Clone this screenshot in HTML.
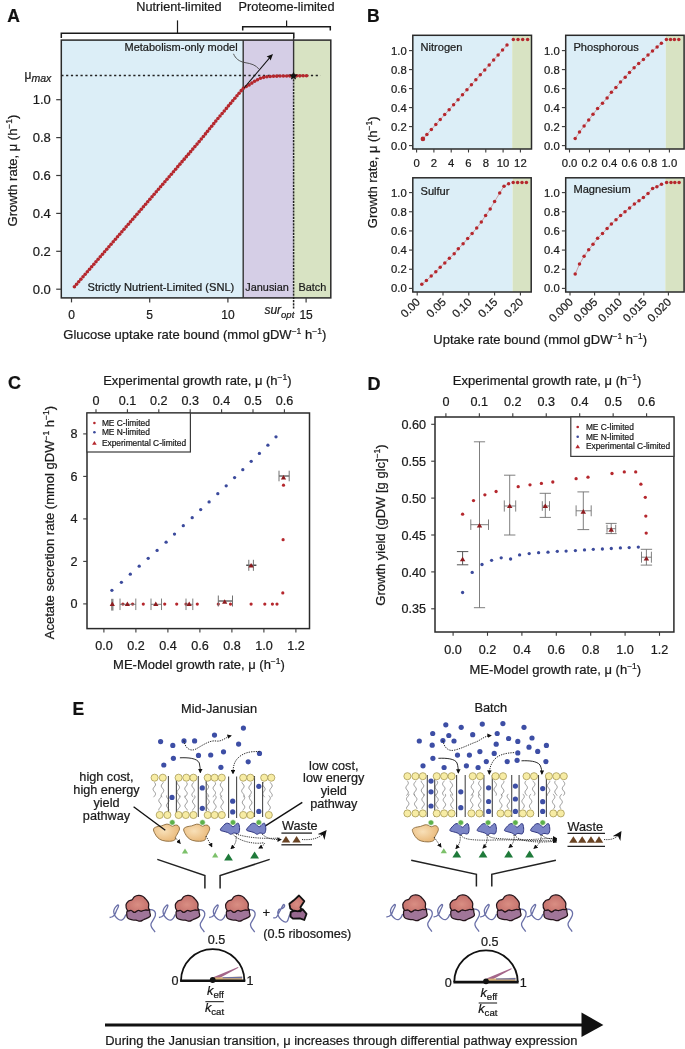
<!DOCTYPE html>
<html><head><meta charset="utf-8"><style>
html,body{margin:0;padding:0;background:#fff;overflow:hidden;width:685px;height:1049px;}
svg{display:block;font-family:"Liberation Sans", sans-serif;will-change:transform;}
text{stroke:#1a1a1a;stroke-width:0.22px;}
</style></head><body>
<svg width="685" height="1049" viewBox="0 0 685 1049">
<rect width="685" height="1049" fill="#fff"/>
<text x="7.2" y="21.8" font-size="17.5" font-weight="bold" fill="#111">A</text>
<rect x="61.30" y="40.10" width="181.90" height="257.80" fill="#dceef7" stroke="none" stroke-width="1" />
<rect x="243.20" y="40.10" width="50.40" height="257.80" fill="#d5cee6" stroke="none" stroke-width="1" />
<rect x="293.60" y="40.10" width="37.20" height="257.80" fill="#d8e3c3" stroke="none" stroke-width="1" />
<rect x="61.30" y="40.10" width="269.50" height="257.80" fill="none" stroke="#2a2a2a" stroke-width="1.5" />
<line x1="243.20" y1="40.10" x2="243.20" y2="297.90" stroke="#333" stroke-width="1.4" />
<line x1="293.60" y1="37.80" x2="293.60" y2="76.00" stroke="#333" stroke-width="1.4" />
<line x1="293.60" y1="76.00" x2="293.60" y2="308.50" stroke="#222" stroke-width="1.5" stroke-dasharray="2.2,1.0"/>
<path d="M61.3,38 V33.2 H293.8 V38" fill="none" stroke="#1a1a1a" stroke-width="1.5"/>
<line x1="177.50" y1="20.40" x2="177.50" y2="33.20" stroke="#1a1a1a" stroke-width="1.2" />
<path d="M242.7,30.5 V26.8 H330.3 V30.5" fill="none" stroke="#1a1a1a" stroke-width="1.5"/>
<line x1="286.60" y1="20.40" x2="286.60" y2="26.80" stroke="#1a1a1a" stroke-width="1.2" />
<text x="179.00" y="11.00" font-size="12.7" text-anchor="middle" fill="#1a1a1a" >Nutrient-limited</text>
<text x="286.50" y="11.00" font-size="12.7" text-anchor="middle" fill="#1a1a1a" >Proteome-limited</text>
<text x="237.60" y="51.00" font-size="11" text-anchor="end" fill="#1a1a1a" >Metabolism-only model</text>
<line x1="61.30" y1="75.50" x2="320.60" y2="75.50" stroke="#222" stroke-width="1.3" stroke-dasharray="2.2,2.6"/>
<line x1="56.20" y1="289.20" x2="61.30" y2="289.20" stroke="#3a3a3a" stroke-width="1.2" />
<text x="50.80" y="293.70" font-size="13" text-anchor="end" fill="#1a1a1a" >0.0</text>
<line x1="56.20" y1="251.30" x2="61.30" y2="251.30" stroke="#3a3a3a" stroke-width="1.2" />
<text x="50.80" y="255.80" font-size="13" text-anchor="end" fill="#1a1a1a" >0.2</text>
<line x1="56.20" y1="213.40" x2="61.30" y2="213.40" stroke="#3a3a3a" stroke-width="1.2" />
<text x="50.80" y="217.90" font-size="13" text-anchor="end" fill="#1a1a1a" >0.4</text>
<line x1="56.20" y1="175.50" x2="61.30" y2="175.50" stroke="#3a3a3a" stroke-width="1.2" />
<text x="50.80" y="180.00" font-size="13" text-anchor="end" fill="#1a1a1a" >0.6</text>
<line x1="56.20" y1="137.60" x2="61.30" y2="137.60" stroke="#3a3a3a" stroke-width="1.2" />
<text x="50.80" y="142.10" font-size="13" text-anchor="end" fill="#1a1a1a" >0.8</text>
<line x1="56.20" y1="99.70" x2="61.30" y2="99.70" stroke="#3a3a3a" stroke-width="1.2" />
<text x="50.80" y="104.20" font-size="13" text-anchor="end" fill="#1a1a1a" >1.0</text>
<text x="24.5" y="79" font-size="12" fill="#1a1a1a">μ<tspan font-style="italic" font-size="10.5" dy="2.5">max</tspan></text>
<line x1="71.50" y1="297.90" x2="71.50" y2="302.40" stroke="#3a3a3a" stroke-width="1.2" />
<text x="71.50" y="319.40" font-size="12" text-anchor="middle" fill="#1a1a1a" >0</text>
<line x1="149.70" y1="297.90" x2="149.70" y2="302.40" stroke="#3a3a3a" stroke-width="1.2" />
<text x="149.70" y="319.40" font-size="12" text-anchor="middle" fill="#1a1a1a" >5</text>
<line x1="227.90" y1="297.90" x2="227.90" y2="302.40" stroke="#3a3a3a" stroke-width="1.2" />
<text x="227.90" y="319.40" font-size="12" text-anchor="middle" fill="#1a1a1a" >10</text>
<line x1="306.10" y1="297.90" x2="306.10" y2="302.40" stroke="#3a3a3a" stroke-width="1.2" />
<text x="306.10" y="319.40" font-size="12" text-anchor="middle" fill="#1a1a1a" >15</text>
<text x="264.4" y="314" font-size="12" font-style="italic" fill="#1a1a1a">sur<tspan font-size="9.5" dy="3.8">opt</tspan></text>
<text x="63.30" y="339.30" font-size="13" text-anchor="start" fill="#1a1a1a" >Glucose uptake rate bound (mmol gDW<tspan dy="-5" font-size="8.5">−1</tspan><tspan dy="5"> h</tspan><tspan dy="-5" font-size="8.5">−1</tspan><tspan dy="5">)</tspan></text>
<text transform="translate(17.3,170.5) rotate(-90)" font-size="13" text-anchor="middle" fill="#1a1a1a">Growth rate, μ (h<tspan dy="-5" font-size="8.5">−1</tspan><tspan dy="5">)</tspan></text>
<text x="87.60" y="290.50" font-size="11.1" text-anchor="start" fill="#1a1a1a" >Strictly Nutrient-Limited (SNL)</text>
<text x="245.30" y="290.50" font-size="10.9" text-anchor="start" fill="#1a1a1a" >Janusian</text>
<text x="298.40" y="290.50" font-size="10.9" text-anchor="start" fill="#1a1a1a" >Batch</text>
<polyline points="74.4,286.7 81.1,278.9 87.9,271.1 94.6,263.3 101.4,255.5 108.1,247.7 114.8,239.9 121.6,232.1 128.3,224.3 135.1,216.5 141.8,208.7 147.5,202.0 153.2,195.4 158.9,188.8 164.6,182.1 170.2,175.4 175.9,168.8 181.6,162.1 187.3,155.5 193.0,148.8 198.7,142.2 200.6,139.9 202.5,137.5 204.4,135.2 206.3,132.9 208.1,130.6 210.0,128.2 211.9,125.9 213.8,123.6 215.7,121.2 217.6,118.9 220.2,115.9 222.7,112.8 225.2,109.8 227.8,106.7 230.3,103.7 232.9,100.6 235.4,97.6 238.0,94.5 240.5,91.5 243.1,88.4 243.2,88.3 243.4,88.2 243.6,88.1 243.8,88.0 244.0,87.9 244.2,87.7 244.5,87.6 244.7,87.4 245.0,87.3 245.3,87.1 245.6,87.0 245.8,86.8 246.1,86.6 246.4,86.4 246.8,86.3 247.1,86.1 247.4,85.9 247.7,85.7 248.0,85.5 248.3,85.4 248.6,85.2 248.9,85.0 249.2,84.8 249.4,84.7 249.7,84.5 250.0,84.3 250.2,84.2 250.5,84.0 250.7,83.8 251.0,83.7 251.3,83.5 251.5,83.3 251.8,83.2 252.0,83.0 252.3,82.8 252.6,82.6 252.8,82.5 253.1,82.3 253.3,82.1 253.6,82.0 253.8,81.8 254.1,81.6 254.4,81.5 254.6,81.3 254.9,81.1 255.1,81.0 255.4,80.8 255.7,80.7 255.9,80.5 256.2,80.4 256.5,80.3 256.7,80.1 257.0,80.0 257.2,79.8 257.5,79.7 257.7,79.6 258.0,79.5 258.2,79.3 258.5,79.2 258.7,79.1 259.0,78.9 259.2,78.8 259.5,78.7 259.8,78.6 260.0,78.5 260.3,78.4 260.6,78.3 260.8,78.2 261.1,78.1 261.4,78.0 261.7,77.9 262.0,77.8 262.3,77.7 262.7,77.6 263.0,77.5 263.3,77.4 263.7,77.3 264.0,77.3 264.4,77.2 264.7,77.1 265.1,77.1 265.4,77.0 265.8,77.0 266.2,76.9 266.6,76.9 266.9,76.8 267.3,76.8 267.7,76.7 268.1,76.7 268.5,76.6 269.0,76.6 269.4,76.6 269.8,76.5 270.3,76.5 270.7,76.5 271.2,76.4 271.7,76.4 272.2,76.4 272.7,76.3 273.2,76.3 273.7,76.3 274.3,76.2 274.8,76.2 275.4,76.2 276.0,76.2 276.6,76.1 277.2,76.1 277.8,76.1 278.4,76.1 279.0,76.1 279.6,76.1 280.3,76.0 280.9,76.0 281.6,76.0 282.2,76.0 282.9,76.0 283.6,76.0 284.3,76.0 285.0,76.0 285.7,75.9 286.4,75.9 287.1,75.9 287.8,75.9 288.5,75.9 289.2,75.9 289.9,75.9 290.7,75.9 291.5,75.9 292.4,75.9 293.2,75.9 294.1,75.9 295.0,75.8 295.9,75.8 296.9,75.8 297.8,75.8 298.7,75.8 299.6,75.8 300.6,75.8 301.4,75.8 302.3,75.8 303.2,75.8 304.0,75.8 304.8,75.8 305.5,75.8 306.2,75.8 306.9,75.8 307.5,75.8 308.1,75.8 308.6,75.8 309.0,75.8" fill="none" stroke="#b5272d" stroke-width="1.0" stroke-opacity="0.55"/>
<circle cx="74.40" cy="286.70" r="1.8" fill="#b5272d"/>
<circle cx="76.56" cy="284.20" r="1.8" fill="#b5272d"/>
<circle cx="78.72" cy="281.71" r="1.8" fill="#b5272d"/>
<circle cx="80.87" cy="279.21" r="1.8" fill="#b5272d"/>
<circle cx="83.03" cy="276.71" r="1.8" fill="#b5272d"/>
<circle cx="85.19" cy="274.22" r="1.8" fill="#b5272d"/>
<circle cx="87.35" cy="271.72" r="1.8" fill="#b5272d"/>
<circle cx="89.50" cy="269.22" r="1.8" fill="#b5272d"/>
<circle cx="91.66" cy="266.72" r="1.8" fill="#b5272d"/>
<circle cx="93.82" cy="264.23" r="1.8" fill="#b5272d"/>
<circle cx="95.98" cy="261.73" r="1.8" fill="#b5272d"/>
<circle cx="98.13" cy="259.23" r="1.8" fill="#b5272d"/>
<circle cx="100.29" cy="256.74" r="1.8" fill="#b5272d"/>
<circle cx="102.45" cy="254.24" r="1.8" fill="#b5272d"/>
<circle cx="104.61" cy="251.74" r="1.8" fill="#b5272d"/>
<circle cx="106.76" cy="249.25" r="1.8" fill="#b5272d"/>
<circle cx="108.92" cy="246.75" r="1.8" fill="#b5272d"/>
<circle cx="111.08" cy="244.25" r="1.8" fill="#b5272d"/>
<circle cx="113.24" cy="241.76" r="1.8" fill="#b5272d"/>
<circle cx="115.39" cy="239.26" r="1.8" fill="#b5272d"/>
<circle cx="117.55" cy="236.76" r="1.8" fill="#b5272d"/>
<circle cx="119.71" cy="234.26" r="1.8" fill="#b5272d"/>
<circle cx="121.87" cy="231.77" r="1.8" fill="#b5272d"/>
<circle cx="124.03" cy="229.27" r="1.8" fill="#b5272d"/>
<circle cx="126.18" cy="226.77" r="1.8" fill="#b5272d"/>
<circle cx="128.34" cy="224.28" r="1.8" fill="#b5272d"/>
<circle cx="130.50" cy="221.78" r="1.8" fill="#b5272d"/>
<circle cx="132.66" cy="219.28" r="1.8" fill="#b5272d"/>
<circle cx="134.81" cy="216.79" r="1.8" fill="#b5272d"/>
<circle cx="136.97" cy="214.29" r="1.8" fill="#b5272d"/>
<circle cx="139.13" cy="211.79" r="1.8" fill="#b5272d"/>
<circle cx="141.29" cy="209.29" r="1.8" fill="#b5272d"/>
<circle cx="143.43" cy="206.79" r="1.8" fill="#b5272d"/>
<circle cx="145.58" cy="204.28" r="1.8" fill="#b5272d"/>
<circle cx="147.73" cy="201.78" r="1.8" fill="#b5272d"/>
<circle cx="149.87" cy="199.27" r="1.8" fill="#b5272d"/>
<circle cx="152.02" cy="196.76" r="1.8" fill="#b5272d"/>
<circle cx="154.16" cy="194.25" r="1.8" fill="#b5272d"/>
<circle cx="156.31" cy="191.75" r="1.8" fill="#b5272d"/>
<circle cx="158.45" cy="189.24" r="1.8" fill="#b5272d"/>
<circle cx="160.60" cy="186.73" r="1.8" fill="#b5272d"/>
<circle cx="162.74" cy="184.22" r="1.8" fill="#b5272d"/>
<circle cx="164.89" cy="181.72" r="1.8" fill="#b5272d"/>
<circle cx="167.03" cy="179.21" r="1.8" fill="#b5272d"/>
<circle cx="169.18" cy="176.70" r="1.8" fill="#b5272d"/>
<circle cx="171.33" cy="174.19" r="1.8" fill="#b5272d"/>
<circle cx="173.47" cy="171.69" r="1.8" fill="#b5272d"/>
<circle cx="175.62" cy="169.18" r="1.8" fill="#b5272d"/>
<circle cx="177.76" cy="166.67" r="1.8" fill="#b5272d"/>
<circle cx="179.91" cy="164.16" r="1.8" fill="#b5272d"/>
<circle cx="182.05" cy="161.66" r="1.8" fill="#b5272d"/>
<circle cx="184.20" cy="159.15" r="1.8" fill="#b5272d"/>
<circle cx="186.34" cy="156.64" r="1.8" fill="#b5272d"/>
<circle cx="188.49" cy="154.13" r="1.8" fill="#b5272d"/>
<circle cx="190.63" cy="151.63" r="1.8" fill="#b5272d"/>
<circle cx="192.78" cy="149.12" r="1.8" fill="#b5272d"/>
<circle cx="194.92" cy="146.61" r="1.8" fill="#b5272d"/>
<circle cx="197.07" cy="144.10" r="1.8" fill="#b5272d"/>
<circle cx="199.20" cy="141.58" r="1.8" fill="#b5272d"/>
<circle cx="201.28" cy="139.02" r="1.8" fill="#b5272d"/>
<circle cx="203.36" cy="136.46" r="1.8" fill="#b5272d"/>
<circle cx="205.44" cy="133.90" r="1.8" fill="#b5272d"/>
<circle cx="207.52" cy="131.33" r="1.8" fill="#b5272d"/>
<circle cx="209.59" cy="128.77" r="1.8" fill="#b5272d"/>
<circle cx="211.67" cy="126.21" r="1.8" fill="#b5272d"/>
<circle cx="213.75" cy="123.64" r="1.8" fill="#b5272d"/>
<circle cx="215.83" cy="121.08" r="1.8" fill="#b5272d"/>
<circle cx="217.92" cy="118.52" r="1.8" fill="#b5272d"/>
<circle cx="220.03" cy="115.99" r="1.8" fill="#b5272d"/>
<circle cx="222.15" cy="113.46" r="1.8" fill="#b5272d"/>
<circle cx="224.27" cy="110.93" r="1.8" fill="#b5272d"/>
<circle cx="226.38" cy="108.40" r="1.8" fill="#b5272d"/>
<circle cx="228.50" cy="105.86" r="1.8" fill="#b5272d"/>
<circle cx="230.62" cy="103.33" r="1.8" fill="#b5272d"/>
<circle cx="232.73" cy="100.80" r="1.8" fill="#b5272d"/>
<circle cx="234.85" cy="98.27" r="1.8" fill="#b5272d"/>
<circle cx="236.97" cy="95.74" r="1.8" fill="#b5272d"/>
<circle cx="239.08" cy="93.21" r="1.8" fill="#b5272d"/>
<circle cx="241.20" cy="90.67" r="1.8" fill="#b5272d"/>
<circle cx="243.39" cy="88.23" r="1.8" fill="#b5272d"/>
<circle cx="246.24" cy="86.56" r="1.8" fill="#b5272d"/>
<circle cx="249.08" cy="84.88" r="1.8" fill="#b5272d"/>
<circle cx="251.86" cy="83.11" r="1.8" fill="#b5272d"/>
<circle cx="254.62" cy="81.30" r="1.8" fill="#b5272d"/>
<circle cx="257.51" cy="79.70" r="1.8" fill="#b5272d"/>
<circle cx="260.49" cy="78.29" r="1.8" fill="#b5272d"/>
<circle cx="263.65" cy="77.35" r="1.8" fill="#b5272d"/>
<circle cx="266.90" cy="76.82" r="1.8" fill="#b5272d"/>
<circle cx="270.19" cy="76.50" r="1.8" fill="#b5272d"/>
<circle cx="273.48" cy="76.28" r="1.8" fill="#b5272d"/>
<circle cx="276.78" cy="76.13" r="1.8" fill="#b5272d"/>
<circle cx="280.08" cy="76.04" r="1.8" fill="#b5272d"/>
<circle cx="283.37" cy="75.98" r="1.8" fill="#b5272d"/>
<circle cx="286.67" cy="75.93" r="1.8" fill="#b5272d"/>
<circle cx="289.97" cy="75.89" r="1.8" fill="#b5272d"/>
<circle cx="293.27" cy="75.86" r="1.8" fill="#b5272d"/>
<circle cx="296.57" cy="75.84" r="1.8" fill="#b5272d"/>
<circle cx="299.87" cy="75.83" r="1.8" fill="#b5272d"/>
<circle cx="303.17" cy="75.82" r="1.8" fill="#b5272d"/>
<circle cx="306.47" cy="75.81" r="1.8" fill="#b5272d"/>
<line x1="244.00" y1="88.00" x2="270.00" y2="57.40" stroke="#111" stroke-width="1.05" />
<path d="M273.0,54.0 L266.6,56.6 L269.3,58.1 L270.6,60.6 Z" fill="#111"/>
<path d="M233.5,53.8 C235.5,58.5 239,61.5 245,62.6 C251,63.6 256,65 258.8,69.0" fill="none" stroke="#444" stroke-width="0.9"/>
<polygon points="293.50,71.70 294.76,74.26 297.59,74.67 295.54,76.66 296.03,79.48 293.50,78.15 290.97,79.48 291.46,76.66 289.41,74.67 292.24,74.26" fill="#111"/>
<text x="367" y="21.8" font-size="17.5" font-weight="bold" fill="#111">B</text>
<rect x="412.80" y="35.30" width="99.40" height="113.70" fill="#dceef7" stroke="none" stroke-width="1" />
<rect x="512.20" y="35.30" width="19.30" height="113.70" fill="#d8e3c3" stroke="none" stroke-width="1" />
<rect x="412.80" y="35.30" width="118.70" height="113.70" fill="none" stroke="#2a2a2a" stroke-width="1.5" />
<line x1="409.00" y1="145.60" x2="412.80" y2="145.60" stroke="#3a3a3a" stroke-width="1.1" />
<text x="406.80" y="149.50" font-size="11.3" text-anchor="end" fill="#1a1a1a" >0.0</text>
<line x1="409.00" y1="126.60" x2="412.80" y2="126.60" stroke="#3a3a3a" stroke-width="1.1" />
<text x="406.80" y="130.50" font-size="11.3" text-anchor="end" fill="#1a1a1a" >0.2</text>
<line x1="409.00" y1="107.60" x2="412.80" y2="107.60" stroke="#3a3a3a" stroke-width="1.1" />
<text x="406.80" y="111.50" font-size="11.3" text-anchor="end" fill="#1a1a1a" >0.4</text>
<line x1="409.00" y1="88.60" x2="412.80" y2="88.60" stroke="#3a3a3a" stroke-width="1.1" />
<text x="406.80" y="92.50" font-size="11.3" text-anchor="end" fill="#1a1a1a" >0.6</text>
<line x1="409.00" y1="69.60" x2="412.80" y2="69.60" stroke="#3a3a3a" stroke-width="1.1" />
<text x="406.80" y="73.50" font-size="11.3" text-anchor="end" fill="#1a1a1a" >0.8</text>
<line x1="409.00" y1="50.60" x2="412.80" y2="50.60" stroke="#3a3a3a" stroke-width="1.1" />
<text x="406.80" y="54.50" font-size="11.3" text-anchor="end" fill="#1a1a1a" >1.0</text>
<line x1="416.60" y1="149.00" x2="416.60" y2="152.50" stroke="#3a3a3a" stroke-width="1.1" />
<text x="416.60" y="167.00" font-size="11.3" text-anchor="middle" fill="#1a1a1a" >0</text>
<line x1="433.90" y1="149.00" x2="433.90" y2="152.50" stroke="#3a3a3a" stroke-width="1.1" />
<text x="433.90" y="167.00" font-size="11.3" text-anchor="middle" fill="#1a1a1a" >2</text>
<line x1="451.20" y1="149.00" x2="451.20" y2="152.50" stroke="#3a3a3a" stroke-width="1.1" />
<text x="451.20" y="167.00" font-size="11.3" text-anchor="middle" fill="#1a1a1a" >4</text>
<line x1="468.50" y1="149.00" x2="468.50" y2="152.50" stroke="#3a3a3a" stroke-width="1.1" />
<text x="468.50" y="167.00" font-size="11.3" text-anchor="middle" fill="#1a1a1a" >6</text>
<line x1="485.80" y1="149.00" x2="485.80" y2="152.50" stroke="#3a3a3a" stroke-width="1.1" />
<text x="485.80" y="167.00" font-size="11.3" text-anchor="middle" fill="#1a1a1a" >8</text>
<line x1="503.10" y1="149.00" x2="503.10" y2="152.50" stroke="#3a3a3a" stroke-width="1.1" />
<text x="503.10" y="167.00" font-size="11.3" text-anchor="middle" fill="#1a1a1a" >10</text>
<line x1="520.40" y1="149.00" x2="520.40" y2="152.50" stroke="#3a3a3a" stroke-width="1.1" />
<text x="520.40" y="167.00" font-size="11.3" text-anchor="middle" fill="#1a1a1a" >12</text>
<text x="420.50" y="50.80" font-size="11.1" text-anchor="start" fill="#1a1a1a" >Nitrogen</text>
<polyline points="422.9,138.9 426.9,134.5 431.3,129.5 435.8,124.6 440.2,119.6 444.7,114.6 449.1,109.7 453.6,104.7 458.0,99.7 462.5,94.7 466.9,89.8 471.4,84.8 475.8,79.8 480.3,74.9 484.8,69.9 489.2,64.9 493.6,60.0 498.1,55.0 502.5,50.0 507.0,45.0" fill="none" stroke="#b5272d" stroke-width="0.8" stroke-opacity="0.5"/>
<circle cx="422.90" cy="138.90" r="1.75" fill="#b5272d"/>
<circle cx="426.90" cy="134.50" r="1.75" fill="#b5272d"/>
<circle cx="431.35" cy="129.53" r="1.75" fill="#b5272d"/>
<circle cx="435.80" cy="124.56" r="1.75" fill="#b5272d"/>
<circle cx="440.25" cy="119.59" r="1.75" fill="#b5272d"/>
<circle cx="444.70" cy="114.62" r="1.75" fill="#b5272d"/>
<circle cx="449.15" cy="109.65" r="1.75" fill="#b5272d"/>
<circle cx="453.60" cy="104.68" r="1.75" fill="#b5272d"/>
<circle cx="458.05" cy="99.71" r="1.75" fill="#b5272d"/>
<circle cx="462.50" cy="94.74" r="1.75" fill="#b5272d"/>
<circle cx="466.95" cy="89.77" r="1.75" fill="#b5272d"/>
<circle cx="471.40" cy="84.80" r="1.75" fill="#b5272d"/>
<circle cx="475.85" cy="79.83" r="1.75" fill="#b5272d"/>
<circle cx="480.30" cy="74.86" r="1.75" fill="#b5272d"/>
<circle cx="484.75" cy="69.89" r="1.75" fill="#b5272d"/>
<circle cx="489.20" cy="64.92" r="1.75" fill="#b5272d"/>
<circle cx="493.65" cy="59.95" r="1.75" fill="#b5272d"/>
<circle cx="498.10" cy="54.98" r="1.75" fill="#b5272d"/>
<circle cx="502.55" cy="50.01" r="1.75" fill="#b5272d"/>
<circle cx="507.00" cy="45.04" r="1.75" fill="#b5272d"/>
<circle cx="513.30" cy="39.40" r="1.75" fill="#b5272d"/>
<circle cx="518.00" cy="39.40" r="1.75" fill="#b5272d"/>
<circle cx="522.70" cy="39.40" r="1.75" fill="#b5272d"/>
<circle cx="527.60" cy="39.40" r="1.75" fill="#b5272d"/>
<circle cx="422.90" cy="138.90" r="2.3" fill="#b5272d"/>
<rect x="565.70" y="35.30" width="100.10" height="113.70" fill="#dceef7" stroke="none" stroke-width="1" />
<rect x="665.80" y="35.30" width="18.30" height="113.70" fill="#d8e3c3" stroke="none" stroke-width="1" />
<rect x="565.70" y="35.30" width="118.40" height="113.70" fill="none" stroke="#2a2a2a" stroke-width="1.5" />
<line x1="561.90" y1="145.60" x2="565.70" y2="145.60" stroke="#3a3a3a" stroke-width="1.1" />
<text x="559.70" y="149.50" font-size="11.3" text-anchor="end" fill="#1a1a1a" >0.0</text>
<line x1="561.90" y1="126.60" x2="565.70" y2="126.60" stroke="#3a3a3a" stroke-width="1.1" />
<text x="559.70" y="130.50" font-size="11.3" text-anchor="end" fill="#1a1a1a" >0.2</text>
<line x1="561.90" y1="107.60" x2="565.70" y2="107.60" stroke="#3a3a3a" stroke-width="1.1" />
<text x="559.70" y="111.50" font-size="11.3" text-anchor="end" fill="#1a1a1a" >0.4</text>
<line x1="561.90" y1="88.60" x2="565.70" y2="88.60" stroke="#3a3a3a" stroke-width="1.1" />
<text x="559.70" y="92.50" font-size="11.3" text-anchor="end" fill="#1a1a1a" >0.6</text>
<line x1="561.90" y1="69.60" x2="565.70" y2="69.60" stroke="#3a3a3a" stroke-width="1.1" />
<text x="559.70" y="73.50" font-size="11.3" text-anchor="end" fill="#1a1a1a" >0.8</text>
<line x1="561.90" y1="50.60" x2="565.70" y2="50.60" stroke="#3a3a3a" stroke-width="1.1" />
<text x="559.70" y="54.50" font-size="11.3" text-anchor="end" fill="#1a1a1a" >1.0</text>
<line x1="569.50" y1="149.00" x2="569.50" y2="152.50" stroke="#3a3a3a" stroke-width="1.1" />
<text x="569.50" y="167.00" font-size="11.3" text-anchor="middle" fill="#1a1a1a" >0.0</text>
<line x1="589.48" y1="149.00" x2="589.48" y2="152.50" stroke="#3a3a3a" stroke-width="1.1" />
<text x="589.48" y="167.00" font-size="11.3" text-anchor="middle" fill="#1a1a1a" >0.2</text>
<line x1="609.46" y1="149.00" x2="609.46" y2="152.50" stroke="#3a3a3a" stroke-width="1.1" />
<text x="609.46" y="167.00" font-size="11.3" text-anchor="middle" fill="#1a1a1a" >0.4</text>
<line x1="629.44" y1="149.00" x2="629.44" y2="152.50" stroke="#3a3a3a" stroke-width="1.1" />
<text x="629.44" y="167.00" font-size="11.3" text-anchor="middle" fill="#1a1a1a" >0.6</text>
<line x1="649.42" y1="149.00" x2="649.42" y2="152.50" stroke="#3a3a3a" stroke-width="1.1" />
<text x="649.42" y="167.00" font-size="11.3" text-anchor="middle" fill="#1a1a1a" >0.8</text>
<line x1="669.40" y1="149.00" x2="669.40" y2="152.50" stroke="#3a3a3a" stroke-width="1.1" />
<text x="669.40" y="167.00" font-size="11.3" text-anchor="middle" fill="#1a1a1a" >1.0</text>
<text x="573.40" y="50.80" font-size="11.1" text-anchor="start" fill="#1a1a1a" >Phosphorous</text>
<polyline points="575.2,138.5 579.5,132.1 584.1,126.0 588.7,120.1 593.0,114.2 597.6,108.6 602.5,103.2 607.1,97.9 611.4,92.3 615.9,87.4 620.5,82.0 625.2,77.3 629.5,72.4 634.1,67.8 638.7,63.4 643.4,59.5 648.0,55.1 652.5,51.0 657.1,47.0 661.4,43.3" fill="none" stroke="#b5272d" stroke-width="0.8" stroke-opacity="0.5"/>
<circle cx="575.20" cy="138.50" r="1.75" fill="#b5272d"/>
<circle cx="579.50" cy="132.10" r="1.75" fill="#b5272d"/>
<circle cx="584.10" cy="126.00" r="1.75" fill="#b5272d"/>
<circle cx="588.70" cy="120.10" r="1.75" fill="#b5272d"/>
<circle cx="593.00" cy="114.20" r="1.75" fill="#b5272d"/>
<circle cx="597.60" cy="108.60" r="1.75" fill="#b5272d"/>
<circle cx="602.50" cy="103.20" r="1.75" fill="#b5272d"/>
<circle cx="607.10" cy="97.90" r="1.75" fill="#b5272d"/>
<circle cx="611.40" cy="92.30" r="1.75" fill="#b5272d"/>
<circle cx="615.90" cy="87.40" r="1.75" fill="#b5272d"/>
<circle cx="620.50" cy="82.00" r="1.75" fill="#b5272d"/>
<circle cx="625.20" cy="77.30" r="1.75" fill="#b5272d"/>
<circle cx="629.50" cy="72.40" r="1.75" fill="#b5272d"/>
<circle cx="634.10" cy="67.80" r="1.75" fill="#b5272d"/>
<circle cx="638.70" cy="63.40" r="1.75" fill="#b5272d"/>
<circle cx="643.40" cy="59.50" r="1.75" fill="#b5272d"/>
<circle cx="648.00" cy="55.10" r="1.75" fill="#b5272d"/>
<circle cx="652.50" cy="51.00" r="1.75" fill="#b5272d"/>
<circle cx="657.10" cy="47.00" r="1.75" fill="#b5272d"/>
<circle cx="661.40" cy="43.30" r="1.75" fill="#b5272d"/>
<circle cx="666.40" cy="39.60" r="1.75" fill="#b5272d"/>
<circle cx="670.50" cy="39.60" r="1.75" fill="#b5272d"/>
<circle cx="674.40" cy="39.60" r="1.75" fill="#b5272d"/>
<circle cx="678.80" cy="39.60" r="1.75" fill="#b5272d"/>
<rect x="412.80" y="177.80" width="99.80" height="114.20" fill="#dceef7" stroke="none" stroke-width="1" />
<rect x="512.60" y="177.80" width="18.60" height="114.20" fill="#d8e3c3" stroke="none" stroke-width="1" />
<rect x="412.80" y="177.80" width="118.40" height="114.20" fill="none" stroke="#2a2a2a" stroke-width="1.5" />
<line x1="409.00" y1="288.40" x2="412.80" y2="288.40" stroke="#3a3a3a" stroke-width="1.1" />
<text x="406.80" y="292.30" font-size="11.3" text-anchor="end" fill="#1a1a1a" >0.0</text>
<line x1="409.00" y1="269.24" x2="412.80" y2="269.24" stroke="#3a3a3a" stroke-width="1.1" />
<text x="406.80" y="273.14" font-size="11.3" text-anchor="end" fill="#1a1a1a" >0.2</text>
<line x1="409.00" y1="250.08" x2="412.80" y2="250.08" stroke="#3a3a3a" stroke-width="1.1" />
<text x="406.80" y="253.98" font-size="11.3" text-anchor="end" fill="#1a1a1a" >0.4</text>
<line x1="409.00" y1="230.92" x2="412.80" y2="230.92" stroke="#3a3a3a" stroke-width="1.1" />
<text x="406.80" y="234.82" font-size="11.3" text-anchor="end" fill="#1a1a1a" >0.6</text>
<line x1="409.00" y1="211.76" x2="412.80" y2="211.76" stroke="#3a3a3a" stroke-width="1.1" />
<text x="406.80" y="215.66" font-size="11.3" text-anchor="end" fill="#1a1a1a" >0.8</text>
<line x1="409.00" y1="192.60" x2="412.80" y2="192.60" stroke="#3a3a3a" stroke-width="1.1" />
<text x="406.80" y="196.50" font-size="11.3" text-anchor="end" fill="#1a1a1a" >1.0</text>
<line x1="417.20" y1="292.00" x2="417.20" y2="295.50" stroke="#3a3a3a" stroke-width="1.1" />
<text transform="translate(420.80,302.80) rotate(-45)" font-size="11.3" text-anchor="end" fill="#1a1a1a">0.00</text>
<line x1="443.00" y1="292.00" x2="443.00" y2="295.50" stroke="#3a3a3a" stroke-width="1.1" />
<text transform="translate(446.60,302.80) rotate(-45)" font-size="11.3" text-anchor="end" fill="#1a1a1a">0.05</text>
<line x1="468.80" y1="292.00" x2="468.80" y2="295.50" stroke="#3a3a3a" stroke-width="1.1" />
<text transform="translate(472.40,302.80) rotate(-45)" font-size="11.3" text-anchor="end" fill="#1a1a1a">0.10</text>
<line x1="494.60" y1="292.00" x2="494.60" y2="295.50" stroke="#3a3a3a" stroke-width="1.1" />
<text transform="translate(498.20,302.80) rotate(-45)" font-size="11.3" text-anchor="end" fill="#1a1a1a">0.15</text>
<line x1="520.40" y1="292.00" x2="520.40" y2="295.50" stroke="#3a3a3a" stroke-width="1.1" />
<text transform="translate(524.00,302.80) rotate(-45)" font-size="11.3" text-anchor="end" fill="#1a1a1a">0.20</text>
<text x="420.50" y="194.50" font-size="11.1" text-anchor="start" fill="#1a1a1a" >Sulfur</text>
<polyline points="421.8,284.3 426.4,280.5 431.2,276.1 435.8,271.8 440.2,267.2 444.8,262.9 449.4,258.3 454.2,253.7 458.3,248.8 463.1,243.7 467.7,238.6 472.1,233.5 476.7,228.1 481.3,222.0 485.6,215.6 490.2,208.9 494.6,201.5 499.7,193.1 504.0,186.2 508.6,183.7" fill="none" stroke="#b5272d" stroke-width="0.8" stroke-opacity="0.5"/>
<circle cx="421.80" cy="284.30" r="1.75" fill="#b5272d"/>
<circle cx="426.40" cy="280.50" r="1.75" fill="#b5272d"/>
<circle cx="431.20" cy="276.10" r="1.75" fill="#b5272d"/>
<circle cx="435.80" cy="271.80" r="1.75" fill="#b5272d"/>
<circle cx="440.20" cy="267.20" r="1.75" fill="#b5272d"/>
<circle cx="444.80" cy="262.90" r="1.75" fill="#b5272d"/>
<circle cx="449.40" cy="258.30" r="1.75" fill="#b5272d"/>
<circle cx="454.20" cy="253.70" r="1.75" fill="#b5272d"/>
<circle cx="458.30" cy="248.80" r="1.75" fill="#b5272d"/>
<circle cx="463.10" cy="243.70" r="1.75" fill="#b5272d"/>
<circle cx="467.70" cy="238.60" r="1.75" fill="#b5272d"/>
<circle cx="472.10" cy="233.50" r="1.75" fill="#b5272d"/>
<circle cx="476.70" cy="228.10" r="1.75" fill="#b5272d"/>
<circle cx="481.30" cy="222.00" r="1.75" fill="#b5272d"/>
<circle cx="485.60" cy="215.60" r="1.75" fill="#b5272d"/>
<circle cx="490.20" cy="208.90" r="1.75" fill="#b5272d"/>
<circle cx="494.60" cy="201.50" r="1.75" fill="#b5272d"/>
<circle cx="499.70" cy="193.10" r="1.75" fill="#b5272d"/>
<circle cx="504.00" cy="186.20" r="1.75" fill="#b5272d"/>
<circle cx="508.60" cy="183.70" r="1.75" fill="#b5272d"/>
<circle cx="513.20" cy="182.40" r="1.75" fill="#b5272d"/>
<circle cx="517.60" cy="182.40" r="1.75" fill="#b5272d"/>
<circle cx="522.00" cy="182.40" r="1.75" fill="#b5272d"/>
<circle cx="526.40" cy="182.40" r="1.75" fill="#b5272d"/>
<rect x="565.70" y="177.80" width="99.60" height="114.20" fill="#dceef7" stroke="none" stroke-width="1" />
<rect x="665.30" y="177.80" width="18.80" height="114.20" fill="#d8e3c3" stroke="none" stroke-width="1" />
<rect x="565.70" y="177.80" width="118.40" height="114.20" fill="none" stroke="#2a2a2a" stroke-width="1.5" />
<line x1="561.90" y1="288.40" x2="565.70" y2="288.40" stroke="#3a3a3a" stroke-width="1.1" />
<text x="559.70" y="292.30" font-size="11.3" text-anchor="end" fill="#1a1a1a" >0.0</text>
<line x1="561.90" y1="269.24" x2="565.70" y2="269.24" stroke="#3a3a3a" stroke-width="1.1" />
<text x="559.70" y="273.14" font-size="11.3" text-anchor="end" fill="#1a1a1a" >0.2</text>
<line x1="561.90" y1="250.08" x2="565.70" y2="250.08" stroke="#3a3a3a" stroke-width="1.1" />
<text x="559.70" y="253.98" font-size="11.3" text-anchor="end" fill="#1a1a1a" >0.4</text>
<line x1="561.90" y1="230.92" x2="565.70" y2="230.92" stroke="#3a3a3a" stroke-width="1.1" />
<text x="559.70" y="234.82" font-size="11.3" text-anchor="end" fill="#1a1a1a" >0.6</text>
<line x1="561.90" y1="211.76" x2="565.70" y2="211.76" stroke="#3a3a3a" stroke-width="1.1" />
<text x="559.70" y="215.66" font-size="11.3" text-anchor="end" fill="#1a1a1a" >0.8</text>
<line x1="561.90" y1="192.60" x2="565.70" y2="192.60" stroke="#3a3a3a" stroke-width="1.1" />
<text x="559.70" y="196.50" font-size="11.3" text-anchor="end" fill="#1a1a1a" >1.0</text>
<line x1="570.00" y1="292.00" x2="570.00" y2="295.50" stroke="#3a3a3a" stroke-width="1.1" />
<text transform="translate(573.60,302.80) rotate(-45)" font-size="11.3" text-anchor="end" fill="#1a1a1a">0.000</text>
<line x1="594.60" y1="292.00" x2="594.60" y2="295.50" stroke="#3a3a3a" stroke-width="1.1" />
<text transform="translate(598.20,302.80) rotate(-45)" font-size="11.3" text-anchor="end" fill="#1a1a1a">0.005</text>
<line x1="619.20" y1="292.00" x2="619.20" y2="295.50" stroke="#3a3a3a" stroke-width="1.1" />
<text transform="translate(622.80,302.80) rotate(-45)" font-size="11.3" text-anchor="end" fill="#1a1a1a">0.010</text>
<line x1="643.80" y1="292.00" x2="643.80" y2="295.50" stroke="#3a3a3a" stroke-width="1.1" />
<text transform="translate(647.40,302.80) rotate(-45)" font-size="11.3" text-anchor="end" fill="#1a1a1a">0.015</text>
<line x1="668.40" y1="292.00" x2="668.40" y2="295.50" stroke="#3a3a3a" stroke-width="1.1" />
<text transform="translate(672.00,302.80) rotate(-45)" font-size="11.3" text-anchor="end" fill="#1a1a1a">0.020</text>
<text x="573.40" y="193.30" font-size="11.1" text-anchor="start" fill="#1a1a1a" >Magnesium</text>
<polyline points="575.2,274.1 579.5,264.1 584.1,256.2 588.7,249.8 593.0,244.2 597.6,238.3 602.5,233.5 607.1,228.4 611.4,224.0 616.0,219.7 620.6,215.6 625.0,211.8 629.6,207.9 634.4,204.1 639.0,200.8 643.4,197.4 648.0,193.6 652.6,188.5 656.9,186.7 661.5,184.2" fill="none" stroke="#b5272d" stroke-width="0.8" stroke-opacity="0.5"/>
<circle cx="575.20" cy="274.10" r="1.75" fill="#b5272d"/>
<circle cx="579.50" cy="264.10" r="1.75" fill="#b5272d"/>
<circle cx="584.10" cy="256.20" r="1.75" fill="#b5272d"/>
<circle cx="588.70" cy="249.80" r="1.75" fill="#b5272d"/>
<circle cx="593.00" cy="244.20" r="1.75" fill="#b5272d"/>
<circle cx="597.60" cy="238.30" r="1.75" fill="#b5272d"/>
<circle cx="602.50" cy="233.50" r="1.75" fill="#b5272d"/>
<circle cx="607.10" cy="228.40" r="1.75" fill="#b5272d"/>
<circle cx="611.40" cy="224.00" r="1.75" fill="#b5272d"/>
<circle cx="616.00" cy="219.70" r="1.75" fill="#b5272d"/>
<circle cx="620.60" cy="215.60" r="1.75" fill="#b5272d"/>
<circle cx="625.00" cy="211.80" r="1.75" fill="#b5272d"/>
<circle cx="629.60" cy="207.90" r="1.75" fill="#b5272d"/>
<circle cx="634.40" cy="204.10" r="1.75" fill="#b5272d"/>
<circle cx="639.00" cy="200.80" r="1.75" fill="#b5272d"/>
<circle cx="643.40" cy="197.40" r="1.75" fill="#b5272d"/>
<circle cx="648.00" cy="193.60" r="1.75" fill="#b5272d"/>
<circle cx="652.60" cy="188.50" r="1.75" fill="#b5272d"/>
<circle cx="656.90" cy="186.70" r="1.75" fill="#b5272d"/>
<circle cx="661.50" cy="184.20" r="1.75" fill="#b5272d"/>
<circle cx="666.60" cy="182.40" r="1.75" fill="#b5272d"/>
<circle cx="671.00" cy="182.40" r="1.75" fill="#b5272d"/>
<circle cx="674.80" cy="182.40" r="1.75" fill="#b5272d"/>
<circle cx="679.10" cy="182.40" r="1.75" fill="#b5272d"/>
<text transform="translate(377.2,172.3) rotate(-90)" font-size="13" text-anchor="middle" fill="#1a1a1a">Growth rate, μ (h<tspan dy="-5" font-size="8.5">−1</tspan><tspan dy="5">)</tspan></text>
<text x="433.30" y="344.00" font-size="13" text-anchor="start" fill="#1a1a1a" >Uptake rate bound (mmol gDW<tspan dy="-5" font-size="8.5">−1</tspan><tspan dy="5"> h</tspan><tspan dy="-5" font-size="8.5">−1</tspan><tspan dy="5">)</tspan></text>
<text x="8" y="389" font-size="18" font-weight="bold" fill="#111">C</text>
<rect x="87.00" y="413.00" width="222.50" height="215.60" fill="none" stroke="#2a2a2a" stroke-width="1.5" />
<line x1="96.00" y1="409.20" x2="96.00" y2="413.00" stroke="#3a3a3a" stroke-width="1.1" />
<text x="96.00" y="404.60" font-size="12.6" text-anchor="middle" fill="#1a1a1a" >0</text>
<line x1="127.40" y1="409.20" x2="127.40" y2="413.00" stroke="#3a3a3a" stroke-width="1.1" />
<text x="127.40" y="404.60" font-size="12.6" text-anchor="middle" fill="#1a1a1a" >0.1</text>
<line x1="158.80" y1="409.20" x2="158.80" y2="413.00" stroke="#3a3a3a" stroke-width="1.1" />
<text x="158.80" y="404.60" font-size="12.6" text-anchor="middle" fill="#1a1a1a" >0.2</text>
<line x1="190.20" y1="409.20" x2="190.20" y2="413.00" stroke="#3a3a3a" stroke-width="1.1" />
<text x="190.20" y="404.60" font-size="12.6" text-anchor="middle" fill="#1a1a1a" >0.3</text>
<line x1="221.60" y1="409.20" x2="221.60" y2="413.00" stroke="#3a3a3a" stroke-width="1.1" />
<text x="221.60" y="404.60" font-size="12.6" text-anchor="middle" fill="#1a1a1a" >0.4</text>
<line x1="253.00" y1="409.20" x2="253.00" y2="413.00" stroke="#3a3a3a" stroke-width="1.1" />
<text x="253.00" y="404.60" font-size="12.6" text-anchor="middle" fill="#1a1a1a" >0.5</text>
<line x1="284.40" y1="409.20" x2="284.40" y2="413.00" stroke="#3a3a3a" stroke-width="1.1" />
<text x="284.40" y="404.60" font-size="12.6" text-anchor="middle" fill="#1a1a1a" >0.6</text>
<text x="103.20" y="384.50" font-size="13" text-anchor="start" fill="#1a1a1a" >Experimental growth rate, μ (h<tspan dy="-5" font-size="8.5">−1</tspan><tspan dy="5">)</tspan></text>
<line x1="83.20" y1="603.90" x2="87.00" y2="603.90" stroke="#3a3a3a" stroke-width="1.1" />
<text x="77.40" y="608.40" font-size="12.6" text-anchor="end" fill="#1a1a1a" >0</text>
<line x1="83.20" y1="561.40" x2="87.00" y2="561.40" stroke="#3a3a3a" stroke-width="1.1" />
<text x="77.40" y="565.90" font-size="12.6" text-anchor="end" fill="#1a1a1a" >2</text>
<line x1="83.20" y1="518.90" x2="87.00" y2="518.90" stroke="#3a3a3a" stroke-width="1.1" />
<text x="77.40" y="523.40" font-size="12.6" text-anchor="end" fill="#1a1a1a" >4</text>
<line x1="83.20" y1="476.40" x2="87.00" y2="476.40" stroke="#3a3a3a" stroke-width="1.1" />
<text x="77.40" y="480.90" font-size="12.6" text-anchor="end" fill="#1a1a1a" >6</text>
<line x1="83.20" y1="433.90" x2="87.00" y2="433.90" stroke="#3a3a3a" stroke-width="1.1" />
<text x="77.40" y="438.40" font-size="12.6" text-anchor="end" fill="#1a1a1a" >8</text>
<text transform="translate(54.3,522.6) rotate(-90)" font-size="13" text-anchor="middle" fill="#1a1a1a">Acetate secretion rate (mmol gDW<tspan dy="-5" font-size="8.5">−1</tspan><tspan dy="5"> h</tspan><tspan dy="-5" font-size="8.5">−1</tspan><tspan dy="5">)</tspan></text>
<line x1="103.90" y1="628.60" x2="103.90" y2="632.40" stroke="#3a3a3a" stroke-width="1.1" />
<text x="103.90" y="650.40" font-size="12.6" text-anchor="middle" fill="#1a1a1a" >0.0</text>
<line x1="135.90" y1="628.60" x2="135.90" y2="632.40" stroke="#3a3a3a" stroke-width="1.1" />
<text x="135.90" y="650.40" font-size="12.6" text-anchor="middle" fill="#1a1a1a" >0.2</text>
<line x1="167.90" y1="628.60" x2="167.90" y2="632.40" stroke="#3a3a3a" stroke-width="1.1" />
<text x="167.90" y="650.40" font-size="12.6" text-anchor="middle" fill="#1a1a1a" >0.4</text>
<line x1="199.90" y1="628.60" x2="199.90" y2="632.40" stroke="#3a3a3a" stroke-width="1.1" />
<text x="199.90" y="650.40" font-size="12.6" text-anchor="middle" fill="#1a1a1a" >0.6</text>
<line x1="231.90" y1="628.60" x2="231.90" y2="632.40" stroke="#3a3a3a" stroke-width="1.1" />
<text x="231.90" y="650.40" font-size="12.6" text-anchor="middle" fill="#1a1a1a" >0.8</text>
<line x1="263.90" y1="628.60" x2="263.90" y2="632.40" stroke="#3a3a3a" stroke-width="1.1" />
<text x="263.90" y="650.40" font-size="12.6" text-anchor="middle" fill="#1a1a1a" >1.0</text>
<line x1="295.90" y1="628.60" x2="295.90" y2="632.40" stroke="#3a3a3a" stroke-width="1.1" />
<text x="295.90" y="650.40" font-size="12.6" text-anchor="middle" fill="#1a1a1a" >1.2</text>
<text x="113.10" y="668.70" font-size="13" text-anchor="start" fill="#1a1a1a" >ME-Model growth rate, μ (h<tspan dy="-5" font-size="8.5">−1</tspan><tspan dy="5">)</tspan></text>
<rect x="87.00" y="413.00" width="103.40" height="39.00" fill="#fff" stroke="#3a3a3a" stroke-width="1.2" />
<circle cx="94.40" cy="423.00" r="1.3" fill="#b5272d"/>
<circle cx="94.40" cy="432.20" r="1.3" fill="#3b4a9c"/>
<path d="M94.40,441.00 L96.71,444.85 L92.09,444.85 Z" fill="#b5272d"/>
<text x="101.90" y="426.00" font-size="8.4" text-anchor="start" fill="#1a1a1a" >ME C-limited</text>
<text x="101.90" y="435.20" font-size="8.4" text-anchor="start" fill="#1a1a1a" >ME N-limited</text>
<text x="101.90" y="445.60" font-size="8.4" text-anchor="start" fill="#1a1a1a" >Experimental C-limited</text>
<circle cx="111.90" cy="590.30" r="1.65" fill="#3b4a9c"/>
<circle cx="121.40" cy="582.30" r="1.65" fill="#3b4a9c"/>
<circle cx="130.30" cy="574.20" r="1.65" fill="#3b4a9c"/>
<circle cx="139.20" cy="566.20" r="1.65" fill="#3b4a9c"/>
<circle cx="148.20" cy="558.30" r="1.65" fill="#3b4a9c"/>
<circle cx="157.10" cy="550.40" r="1.65" fill="#3b4a9c"/>
<circle cx="166.10" cy="542.20" r="1.65" fill="#3b4a9c"/>
<circle cx="174.50" cy="534.10" r="1.65" fill="#3b4a9c"/>
<circle cx="183.30" cy="525.70" r="1.65" fill="#3b4a9c"/>
<circle cx="192.20" cy="517.70" r="1.65" fill="#3b4a9c"/>
<circle cx="200.70" cy="509.60" r="1.65" fill="#3b4a9c"/>
<circle cx="209.10" cy="501.90" r="1.65" fill="#3b4a9c"/>
<circle cx="217.80" cy="493.70" r="1.65" fill="#3b4a9c"/>
<circle cx="226.20" cy="485.80" r="1.65" fill="#3b4a9c"/>
<circle cx="234.60" cy="477.60" r="1.65" fill="#3b4a9c"/>
<circle cx="242.80" cy="469.70" r="1.65" fill="#3b4a9c"/>
<circle cx="251.20" cy="461.30" r="1.65" fill="#3b4a9c"/>
<circle cx="259.40" cy="453.40" r="1.65" fill="#3b4a9c"/>
<circle cx="267.90" cy="445.20" r="1.65" fill="#3b4a9c"/>
<circle cx="276.00" cy="436.80" r="1.65" fill="#3b4a9c"/>
<circle cx="122.90" cy="604.10" r="1.6" fill="#b5272d"/>
<circle cx="132.60" cy="604.10" r="1.6" fill="#b5272d"/>
<circle cx="143.30" cy="604.10" r="1.6" fill="#b5272d"/>
<circle cx="164.70" cy="604.10" r="1.6" fill="#b5272d"/>
<circle cx="176.70" cy="604.10" r="1.6" fill="#b5272d"/>
<circle cx="186.00" cy="604.10" r="1.6" fill="#b5272d"/>
<circle cx="197.30" cy="604.10" r="1.6" fill="#b5272d"/>
<circle cx="218.30" cy="604.10" r="1.6" fill="#b5272d"/>
<circle cx="230.50" cy="604.10" r="1.6" fill="#b5272d"/>
<circle cx="251.10" cy="604.10" r="1.6" fill="#b5272d"/>
<circle cx="264.80" cy="604.10" r="1.6" fill="#b5272d"/>
<circle cx="272.40" cy="604.10" r="1.6" fill="#b5272d"/>
<circle cx="277.00" cy="604.10" r="1.6" fill="#b5272d"/>
<circle cx="282.80" cy="592.90" r="1.6" fill="#b5272d"/>
<circle cx="283.10" cy="539.70" r="1.6" fill="#b5272d"/>
<circle cx="283.50" cy="485.20" r="1.6" fill="#b5272d"/>
<line x1="112.30" y1="598.80" x2="112.30" y2="610.60" stroke="#8a8a8a" stroke-width="2.4" />
<line x1="120.00" y1="604.30" x2="135.80" y2="604.30" stroke="#707070" stroke-width="0.9" />
<line x1="120.00" y1="598.55" x2="120.00" y2="610.05" stroke="#707070" stroke-width="0.9" />
<line x1="135.80" y1="598.55" x2="135.80" y2="610.05" stroke="#707070" stroke-width="0.9" />
<line x1="151.00" y1="604.30" x2="161.50" y2="604.30" stroke="#707070" stroke-width="0.9" />
<line x1="151.00" y1="598.55" x2="151.00" y2="610.05" stroke="#707070" stroke-width="0.9" />
<line x1="161.50" y1="598.55" x2="161.50" y2="610.05" stroke="#707070" stroke-width="0.9" />
<line x1="186.00" y1="604.30" x2="192.80" y2="604.30" stroke="#707070" stroke-width="0.9" />
<line x1="186.00" y1="598.55" x2="186.00" y2="610.05" stroke="#707070" stroke-width="0.9" />
<line x1="192.80" y1="598.55" x2="192.80" y2="610.05" stroke="#707070" stroke-width="0.9" />
<line x1="218.30" y1="601.00" x2="232.50" y2="601.00" stroke="#222" stroke-width="1.0" />
<line x1="218.30" y1="595.50" x2="218.30" y2="606.50" stroke="#707070" stroke-width="1.0" />
<line x1="232.50" y1="595.50" x2="232.50" y2="606.50" stroke="#707070" stroke-width="1.0" />
<line x1="246.20" y1="565.20" x2="256.40" y2="565.20" stroke="#222" stroke-width="1.2" />
<line x1="248.80" y1="559.80" x2="248.80" y2="570.80" stroke="#707070" stroke-width="1.0" />
<line x1="253.40" y1="559.80" x2="253.40" y2="570.80" stroke="#707070" stroke-width="1.0" />
<line x1="279.00" y1="476.00" x2="289.20" y2="476.00" stroke="#222" stroke-width="1.0" />
<line x1="279.00" y1="470.70" x2="279.00" y2="481.30" stroke="#707070" stroke-width="1.0" />
<line x1="289.20" y1="470.70" x2="289.20" y2="481.30" stroke="#707070" stroke-width="1.0" />
<path d="M112.30,601.60 L114.92,605.98 L109.67,605.98 Z" fill="#8e1b1f"/>
<path d="M127.40,601.60 L130.03,605.98 L124.78,605.98 Z" fill="#8e1b1f"/>
<path d="M155.80,601.60 L158.43,605.98 L153.18,605.98 Z" fill="#8e1b1f"/>
<path d="M189.20,601.60 L191.82,605.98 L186.57,605.98 Z" fill="#8e1b1f"/>
<path d="M224.70,599.30 L227.32,603.67 L222.07,603.67 Z" fill="#8e1b1f"/>
<path d="M251.10,563.10 L253.72,567.48 L248.47,567.48 Z" fill="#8e1b1f"/>
<path d="M283.50,475.00 L286.12,479.38 L280.88,479.38 Z" fill="#8e1b1f"/>
<text x="367.5" y="389.5" font-size="18" font-weight="bold" fill="#111">D</text>
<rect x="435.00" y="417.00" width="238.90" height="215.00" fill="none" stroke="#2a2a2a" stroke-width="1.5" />
<line x1="445.90" y1="413.20" x2="445.90" y2="417.00" stroke="#3a3a3a" stroke-width="1.1" />
<text x="445.90" y="406.00" font-size="12.6" text-anchor="middle" fill="#1a1a1a" >0</text>
<line x1="479.35" y1="413.20" x2="479.35" y2="417.00" stroke="#3a3a3a" stroke-width="1.1" />
<text x="479.35" y="406.00" font-size="12.6" text-anchor="middle" fill="#1a1a1a" >0.1</text>
<line x1="512.80" y1="413.20" x2="512.80" y2="417.00" stroke="#3a3a3a" stroke-width="1.1" />
<text x="512.80" y="406.00" font-size="12.6" text-anchor="middle" fill="#1a1a1a" >0.2</text>
<line x1="546.25" y1="413.20" x2="546.25" y2="417.00" stroke="#3a3a3a" stroke-width="1.1" />
<text x="546.25" y="406.00" font-size="12.6" text-anchor="middle" fill="#1a1a1a" >0.3</text>
<line x1="579.70" y1="413.20" x2="579.70" y2="417.00" stroke="#3a3a3a" stroke-width="1.1" />
<text x="579.70" y="406.00" font-size="12.6" text-anchor="middle" fill="#1a1a1a" >0.4</text>
<line x1="613.15" y1="413.20" x2="613.15" y2="417.00" stroke="#3a3a3a" stroke-width="1.1" />
<text x="613.15" y="406.00" font-size="12.6" text-anchor="middle" fill="#1a1a1a" >0.5</text>
<line x1="646.60" y1="413.20" x2="646.60" y2="417.00" stroke="#3a3a3a" stroke-width="1.1" />
<text x="646.60" y="406.00" font-size="12.6" text-anchor="middle" fill="#1a1a1a" >0.6</text>
<text x="452.80" y="384.50" font-size="13" text-anchor="start" fill="#1a1a1a" >Experimental growth rate, μ (h<tspan dy="-5" font-size="8.5">−1</tspan><tspan dy="5">)</tspan></text>
<line x1="431.20" y1="608.80" x2="435.00" y2="608.80" stroke="#3a3a3a" stroke-width="1.1" />
<text x="426.00" y="613.40" font-size="12.6" text-anchor="end" fill="#1a1a1a" >0.35</text>
<line x1="431.20" y1="571.90" x2="435.00" y2="571.90" stroke="#3a3a3a" stroke-width="1.1" />
<text x="426.00" y="576.50" font-size="12.6" text-anchor="end" fill="#1a1a1a" >0.40</text>
<line x1="431.20" y1="535.00" x2="435.00" y2="535.00" stroke="#3a3a3a" stroke-width="1.1" />
<text x="426.00" y="539.60" font-size="12.6" text-anchor="end" fill="#1a1a1a" >0.45</text>
<line x1="431.20" y1="498.10" x2="435.00" y2="498.10" stroke="#3a3a3a" stroke-width="1.1" />
<text x="426.00" y="502.70" font-size="12.6" text-anchor="end" fill="#1a1a1a" >0.50</text>
<line x1="431.20" y1="461.20" x2="435.00" y2="461.20" stroke="#3a3a3a" stroke-width="1.1" />
<text x="426.00" y="465.80" font-size="12.6" text-anchor="end" fill="#1a1a1a" >0.55</text>
<line x1="431.20" y1="424.30" x2="435.00" y2="424.30" stroke="#3a3a3a" stroke-width="1.1" />
<text x="426.00" y="428.90" font-size="12.6" text-anchor="end" fill="#1a1a1a" >0.60</text>
<text transform="translate(385.0,525.0) rotate(-90)" font-size="13" text-anchor="middle" fill="#1a1a1a">Growth yield (gDW [g glc]<tspan dy="-5" font-size="8.5">−1</tspan><tspan dy="5">)</tspan></text>
<line x1="453.10" y1="632.00" x2="453.10" y2="635.80" stroke="#3a3a3a" stroke-width="1.1" />
<text x="453.10" y="654.20" font-size="12.6" text-anchor="middle" fill="#1a1a1a" >0.0</text>
<line x1="487.50" y1="632.00" x2="487.50" y2="635.80" stroke="#3a3a3a" stroke-width="1.1" />
<text x="487.50" y="654.20" font-size="12.6" text-anchor="middle" fill="#1a1a1a" >0.2</text>
<line x1="521.90" y1="632.00" x2="521.90" y2="635.80" stroke="#3a3a3a" stroke-width="1.1" />
<text x="521.90" y="654.20" font-size="12.6" text-anchor="middle" fill="#1a1a1a" >0.4</text>
<line x1="556.30" y1="632.00" x2="556.30" y2="635.80" stroke="#3a3a3a" stroke-width="1.1" />
<text x="556.30" y="654.20" font-size="12.6" text-anchor="middle" fill="#1a1a1a" >0.6</text>
<line x1="590.70" y1="632.00" x2="590.70" y2="635.80" stroke="#3a3a3a" stroke-width="1.1" />
<text x="590.70" y="654.20" font-size="12.6" text-anchor="middle" fill="#1a1a1a" >0.8</text>
<line x1="625.10" y1="632.00" x2="625.10" y2="635.80" stroke="#3a3a3a" stroke-width="1.1" />
<text x="625.10" y="654.20" font-size="12.6" text-anchor="middle" fill="#1a1a1a" >1.0</text>
<line x1="659.50" y1="632.00" x2="659.50" y2="635.80" stroke="#3a3a3a" stroke-width="1.1" />
<text x="659.50" y="654.20" font-size="12.6" text-anchor="middle" fill="#1a1a1a" >1.2</text>
<text x="469.40" y="673.50" font-size="13" text-anchor="start" fill="#1a1a1a" >ME-Model growth rate, μ (h<tspan dy="-5" font-size="8.5">−1</tspan><tspan dy="5">)</tspan></text>
<rect x="570.80" y="417.00" width="103.10" height="39.40" fill="#fff" stroke="#3a3a3a" stroke-width="1.2" />
<circle cx="577.70" cy="427.00" r="1.3" fill="#b5272d"/>
<circle cx="577.70" cy="436.80" r="1.3" fill="#3b4a9c"/>
<path d="M577.70,444.40 L580.01,448.25 L575.39,448.25 Z" fill="#b5272d"/>
<text x="585.90" y="430.00" font-size="8.4" text-anchor="start" fill="#1a1a1a" >ME C-limited</text>
<text x="585.90" y="439.80" font-size="8.4" text-anchor="start" fill="#1a1a1a" >ME N-limited</text>
<text x="585.90" y="449.30" font-size="8.4" text-anchor="start" fill="#1a1a1a" >Experimental C-limited</text>
<circle cx="462.60" cy="514.20" r="1.65" fill="#b5272d"/>
<circle cx="473.50" cy="500.60" r="1.65" fill="#b5272d"/>
<circle cx="484.90" cy="494.80" r="1.65" fill="#b5272d"/>
<circle cx="496.10" cy="491.50" r="1.65" fill="#b5272d"/>
<circle cx="518.20" cy="486.70" r="1.65" fill="#b5272d"/>
<circle cx="530.00" cy="484.80" r="1.65" fill="#b5272d"/>
<circle cx="541.40" cy="483.40" r="1.65" fill="#b5272d"/>
<circle cx="552.80" cy="482.00" r="1.65" fill="#b5272d"/>
<circle cx="576.10" cy="478.70" r="1.65" fill="#b5272d"/>
<circle cx="588.00" cy="477.20" r="1.65" fill="#b5272d"/>
<circle cx="612.00" cy="473.50" r="1.65" fill="#b5272d"/>
<circle cx="624.30" cy="471.90" r="1.65" fill="#b5272d"/>
<circle cx="635.70" cy="471.90" r="1.65" fill="#b5272d"/>
<circle cx="640.90" cy="484.20" r="1.65" fill="#b5272d"/>
<circle cx="645.30" cy="497.30" r="1.65" fill="#b5272d"/>
<circle cx="645.80" cy="516.10" r="1.65" fill="#b5272d"/>
<circle cx="646.20" cy="533.10" r="1.65" fill="#b5272d"/>
<circle cx="462.60" cy="592.50" r="1.65" fill="#3b4a9c"/>
<circle cx="472.20" cy="572.40" r="1.65" fill="#3b4a9c"/>
<circle cx="482.00" cy="564.50" r="1.65" fill="#3b4a9c"/>
<circle cx="491.60" cy="560.30" r="1.65" fill="#3b4a9c"/>
<circle cx="501.20" cy="557.80" r="1.65" fill="#3b4a9c"/>
<circle cx="510.60" cy="559.00" r="1.65" fill="#3b4a9c"/>
<circle cx="519.60" cy="554.90" r="1.65" fill="#3b4a9c"/>
<circle cx="529.20" cy="553.60" r="1.65" fill="#3b4a9c"/>
<circle cx="538.60" cy="552.70" r="1.65" fill="#3b4a9c"/>
<circle cx="548.00" cy="552.20" r="1.65" fill="#3b4a9c"/>
<circle cx="557.30" cy="551.30" r="1.65" fill="#3b4a9c"/>
<circle cx="566.10" cy="551.10" r="1.65" fill="#3b4a9c"/>
<circle cx="575.40" cy="550.60" r="1.65" fill="#3b4a9c"/>
<circle cx="584.50" cy="549.90" r="1.65" fill="#3b4a9c"/>
<circle cx="593.30" cy="549.30" r="1.65" fill="#3b4a9c"/>
<circle cx="602.40" cy="549.00" r="1.65" fill="#3b4a9c"/>
<circle cx="611.30" cy="548.50" r="1.65" fill="#3b4a9c"/>
<circle cx="620.40" cy="547.90" r="1.65" fill="#3b4a9c"/>
<circle cx="629.20" cy="547.60" r="1.65" fill="#3b4a9c"/>
<circle cx="638.30" cy="547.10" r="1.65" fill="#3b4a9c"/>
<line x1="462.60" y1="551.60" x2="462.60" y2="564.80" stroke="#555" stroke-width="1.0" />
<line x1="456.90" y1="551.60" x2="468.30" y2="551.60" stroke="#555" stroke-width="1.0" />
<line x1="456.90" y1="564.80" x2="468.30" y2="564.80" stroke="#555" stroke-width="1.0" />
<line x1="479.50" y1="441.80" x2="479.50" y2="607.70" stroke="#707070" stroke-width="0.9" />
<line x1="473.90" y1="441.80" x2="485.10" y2="441.80" stroke="#707070" stroke-width="0.9" />
<line x1="473.90" y1="607.70" x2="485.10" y2="607.70" stroke="#707070" stroke-width="0.9" />
<line x1="470.80" y1="524.70" x2="488.50" y2="524.70" stroke="#707070" stroke-width="0.9" />
<line x1="470.80" y1="519.45" x2="470.80" y2="529.95" stroke="#707070" stroke-width="0.9" />
<line x1="488.50" y1="519.45" x2="488.50" y2="529.95" stroke="#707070" stroke-width="0.9" />
<line x1="509.70" y1="475.20" x2="509.70" y2="535.00" stroke="#707070" stroke-width="0.9" />
<line x1="504.00" y1="475.20" x2="515.40" y2="475.20" stroke="#707070" stroke-width="0.9" />
<line x1="504.00" y1="535.00" x2="515.40" y2="535.00" stroke="#707070" stroke-width="0.9" />
<line x1="504.30" y1="506.00" x2="515.70" y2="506.00" stroke="#707070" stroke-width="0.9" />
<line x1="504.30" y1="500.40" x2="504.30" y2="511.60" stroke="#707070" stroke-width="0.9" />
<line x1="515.70" y1="500.40" x2="515.70" y2="511.60" stroke="#707070" stroke-width="0.9" />
<line x1="545.30" y1="493.30" x2="545.30" y2="517.40" stroke="#707070" stroke-width="0.9" />
<line x1="539.65" y1="493.30" x2="550.95" y2="493.30" stroke="#707070" stroke-width="0.9" />
<line x1="539.65" y1="517.40" x2="550.95" y2="517.40" stroke="#707070" stroke-width="0.9" />
<line x1="542.30" y1="506.00" x2="549.50" y2="506.00" stroke="#707070" stroke-width="0.9" />
<line x1="542.30" y1="501.20" x2="542.30" y2="510.80" stroke="#707070" stroke-width="0.9" />
<line x1="549.50" y1="501.20" x2="549.50" y2="510.80" stroke="#707070" stroke-width="0.9" />
<line x1="583.30" y1="491.90" x2="583.30" y2="529.60" stroke="#707070" stroke-width="0.9" />
<line x1="577.40" y1="491.90" x2="589.20" y2="491.90" stroke="#707070" stroke-width="0.9" />
<line x1="577.40" y1="529.60" x2="589.20" y2="529.60" stroke="#707070" stroke-width="0.9" />
<line x1="576.10" y1="510.80" x2="591.20" y2="510.80" stroke="#707070" stroke-width="0.9" />
<line x1="576.10" y1="505.35" x2="576.10" y2="516.25" stroke="#707070" stroke-width="0.9" />
<line x1="591.20" y1="505.35" x2="591.20" y2="516.25" stroke="#707070" stroke-width="0.9" />
<line x1="611.20" y1="523.40" x2="611.20" y2="533.60" stroke="#707070" stroke-width="0.9" />
<line x1="605.70" y1="523.40" x2="616.70" y2="523.40" stroke="#707070" stroke-width="0.9" />
<line x1="605.70" y1="533.60" x2="616.70" y2="533.60" stroke="#707070" stroke-width="0.9" />
<line x1="607.00" y1="528.70" x2="615.70" y2="528.70" stroke="#707070" stroke-width="0.9" />
<line x1="607.00" y1="524.75" x2="607.00" y2="532.65" stroke="#707070" stroke-width="0.9" />
<line x1="615.70" y1="524.75" x2="615.70" y2="532.65" stroke="#707070" stroke-width="0.9" />
<line x1="646.40" y1="549.30" x2="646.40" y2="565.10" stroke="#707070" stroke-width="0.9" />
<line x1="640.70" y1="549.30" x2="652.10" y2="549.30" stroke="#707070" stroke-width="0.9" />
<line x1="640.70" y1="565.10" x2="652.10" y2="565.10" stroke="#707070" stroke-width="0.9" />
<line x1="641.50" y1="557.20" x2="651.40" y2="557.20" stroke="#707070" stroke-width="0.9" />
<line x1="641.50" y1="551.70" x2="641.50" y2="562.70" stroke="#707070" stroke-width="0.9" />
<line x1="651.40" y1="551.70" x2="651.40" y2="562.70" stroke="#707070" stroke-width="0.9" />
<path d="M462.60,556.80 L465.33,561.35 L459.87,561.35 Z" fill="#8e1b1f"/>
<path d="M479.50,523.00 L482.23,527.55 L476.77,527.55 Z" fill="#8e1b1f"/>
<path d="M509.70,503.40 L512.43,507.95 L506.97,507.95 Z" fill="#8e1b1f"/>
<path d="M545.30,503.40 L548.03,507.95 L542.57,507.95 Z" fill="#8e1b1f"/>
<path d="M583.30,509.10 L586.03,513.65 L580.57,513.65 Z" fill="#8e1b1f"/>
<path d="M611.20,527.10 L613.93,531.65 L608.47,531.65 Z" fill="#8e1b1f"/>
<path d="M646.40,556.00 L649.13,560.55 L643.67,560.55 Z" fill="#8e1b1f"/>
<text x="72.5" y="715.3" font-size="17.5" font-weight="bold" fill="#111">E</text>
<defs><radialGradient id="tan" cx="40%" cy="40%" r="70%"><stop offset="0" stop-color="#f8e0b8"/><stop offset="1" stop-color="#e8b471"/></radialGradient><radialGradient id="rtop" cx="50%" cy="55%" r="60%"><stop offset="0" stop-color="#d98e83"/><stop offset="1" stop-color="#c26d69"/></radialGradient><marker id="ah" viewBox="0 0 10 10" refX="8" refY="5" markerWidth="5" markerHeight="5" orient="auto"><path d="M0,0 L10,5 L0,10 Z" fill="#111"/></marker><marker id="ahb" viewBox="0 0 10 10" refX="8" refY="5" markerWidth="10" markerHeight="10" orient="auto"><path d="M0,0 L10,5 L0,10 L3,5 Z" fill="#111"/></marker></defs>
<text x="181.00" y="712.70" font-size="12.8" text-anchor="start" fill="#1a1a1a" >Mid-Janusian</text>
<circle cx="243.40" cy="728.10" r="2.6" fill="#3d4ea5"/>
<circle cx="214.50" cy="735.10" r="2.6" fill="#3d4ea5"/>
<circle cx="160.60" cy="741.60" r="2.6" fill="#3d4ea5"/>
<circle cx="172.80" cy="745.40" r="2.6" fill="#3d4ea5"/>
<circle cx="184.00" cy="740.90" r="2.6" fill="#3d4ea5"/>
<circle cx="194.60" cy="740.90" r="2.6" fill="#3d4ea5"/>
<circle cx="238.60" cy="744.10" r="2.6" fill="#3d4ea5"/>
<circle cx="198.50" cy="755.40" r="2.6" fill="#3d4ea5"/>
<circle cx="210.70" cy="755.00" r="2.6" fill="#3d4ea5"/>
<circle cx="223.50" cy="751.80" r="2.6" fill="#3d4ea5"/>
<circle cx="259.50" cy="753.40" r="2.6" fill="#3d4ea5"/>
<circle cx="173.40" cy="758.30" r="2.6" fill="#3d4ea5"/>
<circle cx="163.80" cy="765.00" r="2.6" fill="#3d4ea5"/>
<circle cx="220.90" cy="767.30" r="2.6" fill="#3d4ea5"/>
<circle cx="248.20" cy="761.80" r="2.6" fill="#3d4ea5"/>
<path d="M183.9,740.4 C185,748 190,752 196,749 C203,745 210,740 216,741 C222,742 226,737 231,735.8" fill="none" stroke="#111" stroke-width="0.9" stroke-dasharray="1.3,1.1" marker-end="url(#ah)"/>
<path d="M179.9,757.8 C188,757.5 197,758 199.3,763 C200,766 200.3,769 200.3,772.5" fill="none" stroke="#111" stroke-width="0.9" marker-end="url(#ah)"/>
<path d="M259.6,751.7 C250,751 243,753 238,758 C234,762 233,767 233,773.5" fill="none" stroke="#111" stroke-width="0.9" stroke-dasharray="1.3,1.1" marker-end="url(#ah)"/>
<path d="M154.30,782.20 C154.42,782.36 154.84,782.83 155.03,783.14 C155.23,783.45 155.41,783.76 155.49,784.08 C155.56,784.39 155.56,784.70 155.49,785.01 C155.41,785.33 155.23,785.64 155.03,785.95 C154.84,786.26 154.54,786.58 154.30,786.89 C154.06,787.20 153.76,787.51 153.57,787.83 C153.37,788.14 153.19,788.45 153.11,788.76 C153.04,789.08 153.04,789.39 153.11,789.70 C153.19,790.01 153.37,790.33 153.57,790.64 C153.76,790.95 154.06,791.26 154.30,791.58 C154.54,791.89 154.84,792.20 155.03,792.51 C155.23,792.83 155.41,793.14 155.49,793.45 C155.56,793.76 155.56,794.08 155.49,794.39 C155.41,794.70 155.23,795.01 155.03,795.33 C154.84,795.64 154.54,795.95 154.30,796.26 C154.06,796.58 153.69,797.04 153.57,797.20" fill="none" stroke="#808080" stroke-width="0.8"/>
<path d="M163.50,782.20 C163.40,782.36 163.11,782.83 162.87,783.14 C162.64,783.45 162.33,783.76 162.10,784.08 C161.87,784.39 161.62,784.70 161.48,785.01 C161.34,785.33 161.25,785.64 161.25,785.95 C161.25,786.26 161.35,786.58 161.50,786.89 C161.64,787.20 161.89,787.51 162.13,787.83 C162.36,788.14 162.67,788.45 162.90,788.76 C163.13,789.08 163.38,789.39 163.52,789.70 C163.66,790.01 163.75,790.33 163.75,790.64 C163.75,790.95 163.65,791.26 163.50,791.58 C163.36,791.89 163.11,792.20 162.87,792.51 C162.64,792.83 162.33,793.14 162.10,793.45 C161.87,793.76 161.62,794.08 161.48,794.39 C161.34,794.70 161.25,795.01 161.25,795.33 C161.25,795.64 161.35,795.95 161.50,796.26 C161.64,796.58 162.02,797.04 162.13,797.20" fill="none" stroke="#808080" stroke-width="0.8"/>
<path d="M177.10,782.20 C177.11,782.36 177.04,782.83 177.12,783.14 C177.20,783.45 177.39,783.76 177.59,784.08 C177.79,784.39 178.08,784.70 178.33,785.01 C178.57,785.33 178.86,785.64 179.06,785.95 C179.25,786.26 179.43,786.58 179.50,786.89 C179.57,787.20 179.56,787.51 179.48,787.83 C179.40,788.14 179.21,788.45 179.01,788.76 C178.81,789.08 178.52,789.39 178.27,789.70 C178.03,790.01 177.74,790.33 177.54,790.64 C177.35,790.95 177.17,791.26 177.10,791.58 C177.03,791.89 177.04,792.20 177.12,792.51 C177.20,792.83 177.39,793.14 177.59,793.45 C177.79,793.76 178.08,794.08 178.33,794.39 C178.57,794.70 178.86,795.01 179.06,795.33 C179.25,795.64 179.43,795.95 179.50,796.26 C179.57,796.58 179.48,797.04 179.48,797.20" fill="none" stroke="#808080" stroke-width="0.8"/>
<path d="M186.42,782.20 C186.53,782.36 186.90,782.83 187.03,783.14 C187.17,783.45 187.26,783.76 187.25,784.08 C187.24,784.39 187.14,784.70 186.99,785.01 C186.84,785.33 186.58,785.64 186.35,785.95 C186.11,786.26 185.81,786.58 185.58,786.89 C185.34,787.20 185.10,787.51 184.97,787.83 C184.83,788.14 184.74,788.45 184.75,788.76 C184.76,789.08 184.86,789.39 185.01,789.70 C185.16,790.01 185.42,790.33 185.65,790.64 C185.89,790.95 186.19,791.26 186.42,791.58 C186.66,791.89 186.90,792.20 187.03,792.51 C187.17,792.83 187.26,793.14 187.25,793.45 C187.24,793.76 187.14,794.08 186.99,794.39 C186.84,794.70 186.58,795.01 186.35,795.33 C186.11,795.64 185.81,795.95 185.58,796.26 C185.34,796.58 185.07,797.04 184.97,797.20" fill="none" stroke="#808080" stroke-width="0.8"/>
<path d="M193.79,782.20 C193.67,782.36 193.29,782.83 193.05,783.14 C192.80,783.45 192.51,783.76 192.32,784.08 C192.13,784.39 191.96,784.70 191.90,785.01 C191.83,785.33 191.84,785.64 191.93,785.95 C192.01,786.26 192.21,786.58 192.41,786.89 C192.61,787.20 192.91,787.51 193.15,787.83 C193.40,788.14 193.69,788.45 193.88,788.76 C194.07,789.08 194.24,789.39 194.30,789.70 C194.37,790.01 194.36,790.33 194.27,790.64 C194.19,790.95 193.99,791.26 193.79,791.58 C193.59,791.89 193.29,792.20 193.05,792.51 C192.80,792.83 192.51,793.14 192.32,793.45 C192.13,793.76 191.96,794.08 191.90,794.39 C191.83,794.70 191.84,795.01 191.93,795.33 C192.01,795.64 192.21,795.95 192.41,796.26 C192.61,796.58 193.03,797.04 193.15,797.20" fill="none" stroke="#808080" stroke-width="0.8"/>
<path d="M206.15,782.20 C206.20,782.36 206.28,782.83 206.43,783.14 C206.58,783.45 206.84,783.76 207.08,784.08 C207.32,784.39 207.62,784.70 207.85,785.01 C208.08,785.33 208.32,785.64 208.45,785.95 C208.58,786.26 208.66,786.58 208.65,786.89 C208.63,787.20 208.52,787.51 208.37,787.83 C208.22,788.14 207.96,788.45 207.72,788.76 C207.48,789.08 207.18,789.39 206.95,789.70 C206.72,790.01 206.48,790.33 206.35,790.64 C206.22,790.95 206.14,791.26 206.15,791.58 C206.17,791.89 206.28,792.20 206.43,792.51 C206.58,792.83 206.84,793.14 207.08,793.45 C207.32,793.76 207.62,794.08 207.85,794.39 C208.08,794.70 208.32,795.01 208.45,795.33 C208.58,795.64 208.66,795.95 208.65,796.26 C208.63,796.58 208.42,797.04 208.37,797.20" fill="none" stroke="#808080" stroke-width="0.8"/>
<path d="M215.10,782.20 C215.17,782.36 215.45,782.83 215.51,783.14 C215.57,783.45 215.55,783.76 215.46,784.08 C215.37,784.39 215.17,784.70 214.97,785.01 C214.76,785.33 214.46,785.64 214.22,785.95 C213.97,786.26 213.69,786.58 213.50,786.89 C213.31,787.20 213.15,787.51 213.09,787.83 C213.03,788.14 213.05,788.45 213.14,788.76 C213.23,789.08 213.43,789.39 213.63,789.70 C213.84,790.01 214.14,790.33 214.38,790.64 C214.63,790.95 214.91,791.26 215.10,791.58 C215.29,791.89 215.45,792.20 215.51,792.51 C215.57,792.83 215.55,793.14 215.46,793.45 C215.37,793.76 215.17,794.08 214.97,794.39 C214.76,794.70 214.46,795.01 214.22,795.33 C213.97,795.64 213.69,795.95 213.50,796.26 C213.31,796.58 213.16,797.04 213.09,797.20" fill="none" stroke="#808080" stroke-width="0.8"/>
<path d="M221.79,782.20 C221.67,782.36 221.25,782.83 221.02,783.14 C220.80,783.45 220.56,783.76 220.44,784.08 C220.31,784.39 220.23,784.70 220.25,785.01 C220.27,785.33 220.39,785.64 220.55,785.95 C220.71,786.26 220.97,786.58 221.21,786.89 C221.44,787.20 221.75,787.51 221.98,787.83 C222.20,788.14 222.44,788.45 222.56,788.76 C222.69,789.08 222.77,789.39 222.75,789.70 C222.73,790.01 222.61,790.33 222.45,790.64 C222.29,790.95 222.03,791.26 221.79,791.58 C221.56,791.89 221.25,792.20 221.02,792.51 C220.80,792.83 220.56,793.14 220.44,793.45 C220.31,793.76 220.23,794.08 220.25,794.39 C220.27,794.70 220.39,795.01 220.55,795.33 C220.71,795.64 220.97,795.95 221.21,796.26 C221.44,796.58 221.85,797.04 221.98,797.20" fill="none" stroke="#808080" stroke-width="0.8"/>
<path d="M241.75,782.20 C241.83,782.36 242.05,782.83 242.26,783.14 C242.47,783.45 242.76,783.76 243.01,784.08 C243.25,784.39 243.54,784.70 243.72,785.01 C243.90,785.33 244.06,785.64 244.12,785.95 C244.17,786.26 244.15,786.58 244.05,786.89 C243.96,787.20 243.75,787.51 243.54,787.83 C243.33,788.14 243.04,788.45 242.79,788.76 C242.55,789.08 242.26,789.39 242.08,789.70 C241.90,790.01 241.74,790.33 241.68,790.64 C241.63,790.95 241.65,791.26 241.75,791.58 C241.84,791.89 242.05,792.20 242.26,792.51 C242.47,792.83 242.76,793.14 243.01,793.45 C243.25,793.76 243.54,794.08 243.72,794.39 C243.90,794.70 244.06,795.01 244.12,795.33 C244.17,795.64 244.15,795.95 244.05,796.26 C243.96,796.58 243.63,797.04 243.54,797.20" fill="none" stroke="#808080" stroke-width="0.8"/>
<path d="M251.18,782.20 C251.21,782.36 251.37,782.83 251.34,783.14 C251.32,783.45 251.20,783.76 251.03,784.08 C250.87,784.39 250.61,784.70 250.37,785.01 C250.13,785.33 249.82,785.64 249.60,785.95 C249.37,786.26 249.15,786.58 249.02,786.89 C248.90,787.20 248.83,787.51 248.86,787.83 C248.88,788.14 249.00,788.45 249.17,788.76 C249.33,789.08 249.59,789.39 249.83,789.70 C250.07,790.01 250.38,790.33 250.60,790.64 C250.83,790.95 251.05,791.26 251.18,791.58 C251.30,791.89 251.37,792.20 251.34,792.51 C251.32,792.83 251.20,793.14 251.03,793.45 C250.87,793.76 250.61,794.08 250.37,794.39 C250.13,794.70 249.82,795.01 249.60,795.33 C249.37,795.64 249.15,795.95 249.02,796.26 C248.90,796.58 248.88,797.04 248.86,797.20" fill="none" stroke="#808080" stroke-width="0.8"/>
<path d="M263.76,782.20 C263.65,782.36 263.24,782.83 263.06,783.14 C262.88,783.45 262.73,783.76 262.68,784.08 C262.63,784.39 262.66,784.70 262.76,785.01 C262.86,785.33 263.07,785.64 263.28,785.95 C263.49,786.26 263.79,786.58 264.04,786.89 C264.28,787.20 264.56,787.51 264.74,787.83 C264.92,788.14 265.07,788.45 265.12,788.76 C265.17,789.08 265.14,789.39 265.04,789.70 C264.94,790.01 264.73,790.33 264.52,790.64 C264.31,790.95 264.01,791.26 263.76,791.58 C263.52,791.89 263.24,792.20 263.06,792.51 C262.88,792.83 262.73,793.14 262.68,793.45 C262.63,793.76 262.66,794.08 262.76,794.39 C262.86,794.70 263.07,795.01 263.28,795.33 C263.49,795.64 263.79,795.95 264.04,796.26 C264.28,796.58 264.62,797.04 264.74,797.20" fill="none" stroke="#808080" stroke-width="0.8"/>
<path d="M270.08,782.20 C270.20,782.36 270.52,782.83 270.76,783.14 C271.00,783.45 271.30,783.76 271.53,784.08 C271.75,784.39 271.97,784.70 272.09,785.01 C272.21,785.33 272.27,785.64 272.24,785.95 C272.21,786.26 272.08,786.58 271.92,786.89 C271.75,787.20 271.48,787.51 271.24,787.83 C271.00,788.14 270.70,788.45 270.47,788.76 C270.25,789.08 270.03,789.39 269.91,789.70 C269.79,790.01 269.73,790.33 269.76,790.64 C269.79,790.95 269.92,791.26 270.08,791.58 C270.25,791.89 270.52,792.20 270.76,792.51 C271.00,792.83 271.30,793.14 271.53,793.45 C271.75,793.76 271.97,794.08 272.09,794.39 C272.21,794.70 272.27,795.01 272.24,795.33 C272.21,795.64 272.08,795.95 271.92,796.26 C271.75,796.58 271.35,797.04 271.24,797.20" fill="none" stroke="#808080" stroke-width="0.8"/>
<path d="M161.20,795.50 C161.20,795.66 161.26,796.12 161.17,796.44 C161.09,796.75 160.89,797.06 160.69,797.38 C160.49,797.69 160.19,798.00 159.95,798.31 C159.70,798.62 159.41,798.94 159.22,799.25 C159.03,799.56 158.86,799.88 158.80,800.19 C158.73,800.50 158.74,800.81 158.83,801.12 C158.91,801.44 159.11,801.75 159.31,802.06 C159.51,802.38 159.81,802.69 160.05,803.00 C160.30,803.31 160.59,803.62 160.78,803.94 C160.97,804.25 161.14,804.56 161.20,804.88 C161.27,805.19 161.26,805.50 161.17,805.81 C161.09,806.12 160.89,806.44 160.69,806.75 C160.49,807.06 160.19,807.38 159.95,807.69 C159.70,808.00 159.41,808.31 159.22,808.62 C159.03,808.94 158.86,809.25 158.80,809.56 C158.73,809.88 158.82,810.34 158.83,810.50" fill="none" stroke="#808080" stroke-width="0.8"/>
<path d="M166.56,795.50 C166.55,795.66 166.43,796.12 166.48,796.44 C166.53,796.75 166.68,797.06 166.86,797.38 C167.04,797.69 167.32,798.00 167.56,798.31 C167.81,798.62 168.11,798.94 168.32,799.25 C168.53,799.56 168.74,799.88 168.84,800.19 C168.94,800.50 168.97,800.81 168.92,801.12 C168.87,801.44 168.72,801.75 168.54,802.06 C168.36,802.38 168.08,802.69 167.84,803.00 C167.59,803.31 167.29,803.62 167.08,803.94 C166.87,804.25 166.66,804.56 166.56,804.88 C166.46,805.19 166.43,805.50 166.48,805.81 C166.53,806.12 166.68,806.44 166.86,806.75 C167.04,807.06 167.32,807.38 167.56,807.69 C167.81,808.00 168.11,808.31 168.32,808.62 C168.53,808.94 168.74,809.25 168.84,809.56 C168.94,809.88 168.91,810.34 168.92,810.50" fill="none" stroke="#808080" stroke-width="0.8"/>
<path d="M179.95,795.50 C179.98,795.66 180.16,796.12 180.15,796.44 C180.13,796.75 180.02,797.06 179.87,797.38 C179.72,797.69 179.46,798.00 179.22,798.31 C178.98,798.62 178.68,798.94 178.45,799.25 C178.22,799.56 177.98,799.88 177.85,800.19 C177.72,800.50 177.64,800.81 177.65,801.12 C177.67,801.44 177.78,801.75 177.93,802.06 C178.08,802.38 178.34,802.69 178.58,803.00 C178.82,803.31 179.12,803.62 179.35,803.94 C179.58,804.25 179.82,804.56 179.95,804.88 C180.08,805.19 180.16,805.50 180.15,805.81 C180.13,806.12 180.02,806.44 179.87,806.75 C179.72,807.06 179.46,807.38 179.22,807.69 C178.98,808.00 178.68,808.31 178.45,808.62 C178.22,808.94 177.98,809.25 177.85,809.56 C177.72,809.88 177.68,810.34 177.65,810.50" fill="none" stroke="#808080" stroke-width="0.8"/>
<path d="M185.16,795.50 C185.11,795.66 184.88,796.12 184.86,796.44 C184.83,796.75 184.90,797.06 185.02,797.38 C185.15,797.69 185.38,798.00 185.60,798.31 C185.82,798.62 186.13,798.94 186.37,799.25 C186.61,799.56 186.87,799.88 187.04,800.19 C187.20,800.50 187.32,800.81 187.34,801.12 C187.37,801.44 187.30,801.75 187.18,802.06 C187.05,802.38 186.82,802.69 186.60,803.00 C186.38,803.31 186.07,803.62 185.83,803.94 C185.59,804.25 185.33,804.56 185.16,804.88 C185.00,805.19 184.88,805.50 184.86,805.81 C184.83,806.12 184.90,806.44 185.02,806.75 C185.15,807.06 185.38,807.38 185.60,807.69 C185.82,808.00 186.13,808.31 186.37,808.62 C186.61,808.94 186.87,809.25 187.04,809.56 C187.20,809.88 187.29,810.34 187.34,810.50" fill="none" stroke="#808080" stroke-width="0.8"/>
<path d="M194.50,795.50 C194.57,795.66 194.85,796.12 194.91,796.44 C194.97,796.75 194.95,797.06 194.86,797.38 C194.77,797.69 194.57,798.00 194.37,798.31 C194.16,798.62 193.86,798.94 193.62,799.25 C193.37,799.56 193.09,799.88 192.90,800.19 C192.71,800.50 192.55,800.81 192.49,801.12 C192.43,801.44 192.45,801.75 192.54,802.06 C192.63,802.38 192.83,802.69 193.03,803.00 C193.24,803.31 193.54,803.62 193.78,803.94 C194.03,804.25 194.31,804.56 194.50,804.88 C194.69,805.19 194.85,805.50 194.91,805.81 C194.97,806.12 194.95,806.44 194.86,806.75 C194.77,807.06 194.57,807.38 194.37,807.69 C194.16,808.00 193.86,808.31 193.62,808.62 C193.37,808.94 193.09,809.25 192.90,809.56 C192.71,809.88 192.56,810.34 192.49,810.50" fill="none" stroke="#808080" stroke-width="0.8"/>
<path d="M207.36,795.50 C207.27,795.66 206.94,796.12 206.85,796.44 C206.75,796.75 206.73,797.06 206.78,797.38 C206.84,797.69 207.00,798.00 207.18,798.31 C207.37,798.62 207.65,798.94 207.89,799.25 C208.14,799.56 208.44,799.88 208.64,800.19 C208.85,800.50 209.06,800.81 209.15,801.12 C209.25,801.44 209.27,801.75 209.22,802.06 C209.16,802.38 209.00,802.69 208.82,803.00 C208.63,803.31 208.35,803.62 208.11,803.94 C207.86,804.25 207.56,804.56 207.36,804.88 C207.15,805.19 206.94,805.50 206.85,805.81 C206.75,806.12 206.73,806.44 206.78,806.75 C206.84,807.06 207.00,807.38 207.18,807.69 C207.37,808.00 207.65,808.31 207.89,808.62 C208.14,808.94 208.44,809.25 208.64,809.56 C208.85,809.88 209.07,810.34 209.15,810.50" fill="none" stroke="#808080" stroke-width="0.8"/>
<path d="M215.38,795.50 C215.47,795.66 215.84,796.12 215.96,796.44 C216.09,796.75 216.17,797.06 216.15,797.38 C216.13,797.69 216.01,798.00 215.85,798.31 C215.69,798.62 215.43,798.94 215.19,799.25 C214.96,799.56 214.65,799.88 214.42,800.19 C214.20,800.50 213.96,800.81 213.84,801.12 C213.71,801.44 213.63,801.75 213.65,802.06 C213.67,802.38 213.79,802.69 213.95,803.00 C214.11,803.31 214.37,803.62 214.61,803.94 C214.84,804.25 215.15,804.56 215.38,804.88 C215.60,805.19 215.84,805.50 215.96,805.81 C216.09,806.12 216.17,806.44 216.15,806.75 C216.13,807.06 216.01,807.38 215.85,807.69 C215.69,808.00 215.43,808.31 215.19,808.62 C214.96,808.94 214.65,809.25 214.42,809.56 C214.20,809.88 213.93,810.34 213.84,810.50" fill="none" stroke="#808080" stroke-width="0.8"/>
<path d="M221.80,795.50 C221.69,795.66 221.31,796.12 221.15,796.44 C220.99,796.75 220.87,797.06 220.85,797.38 C220.84,797.69 220.91,798.00 221.04,798.31 C221.16,798.62 221.40,798.94 221.63,799.25 C221.85,799.56 222.16,799.88 222.40,800.19 C222.63,800.50 222.89,800.81 223.05,801.12 C223.21,801.44 223.33,801.75 223.35,802.06 C223.36,802.38 223.29,802.69 223.16,803.00 C223.04,803.31 222.80,803.62 222.57,803.94 C222.35,804.25 222.04,804.56 221.80,804.88 C221.57,805.19 221.31,805.50 221.15,805.81 C220.99,806.12 220.87,806.44 220.85,806.75 C220.84,807.06 220.91,807.38 221.04,807.69 C221.16,808.00 221.40,808.31 221.63,808.62 C221.85,808.94 222.16,809.25 222.40,809.56 C222.63,809.88 222.94,810.34 223.05,810.50" fill="none" stroke="#808080" stroke-width="0.8"/>
<path d="M243.61,795.50 C243.73,795.66 244.14,796.12 244.32,796.44 C244.50,796.75 244.66,797.06 244.72,797.38 C244.77,797.69 244.75,798.00 244.65,798.31 C244.55,798.62 244.35,798.94 244.14,799.25 C243.93,799.56 243.64,799.88 243.39,800.19 C243.15,800.50 242.86,800.81 242.68,801.12 C242.50,801.44 242.34,801.75 242.28,802.06 C242.23,802.38 242.25,802.69 242.35,803.00 C242.45,803.31 242.65,803.62 242.86,803.94 C243.07,804.25 243.36,804.56 243.61,804.88 C243.85,805.19 244.14,805.50 244.32,805.81 C244.50,806.12 244.66,806.44 244.72,806.75 C244.77,807.06 244.75,807.38 244.65,807.69 C244.55,808.00 244.35,808.31 244.14,808.62 C243.93,808.94 243.64,809.25 243.39,809.56 C243.15,809.88 242.80,810.34 242.68,810.50" fill="none" stroke="#808080" stroke-width="0.8"/>
<path d="M250.78,795.50 C250.66,795.66 250.24,796.12 250.03,796.44 C249.82,796.75 249.63,797.06 249.54,797.38 C249.45,797.69 249.43,798.00 249.49,798.31 C249.55,798.62 249.71,798.94 249.90,799.25 C250.09,799.56 250.38,799.88 250.62,800.19 C250.86,800.50 251.16,800.81 251.37,801.12 C251.58,801.44 251.77,801.75 251.86,802.06 C251.95,802.38 251.97,802.69 251.91,803.00 C251.85,803.31 251.69,803.62 251.50,803.94 C251.31,804.25 251.02,804.56 250.78,804.88 C250.54,805.19 250.24,805.50 250.03,805.81 C249.82,806.12 249.63,806.44 249.54,806.75 C249.45,807.06 249.43,807.38 249.49,807.69 C249.55,808.00 249.71,808.31 249.90,808.62 C250.09,808.94 250.38,809.25 250.62,809.56 C250.86,809.88 251.24,810.34 251.37,810.50" fill="none" stroke="#808080" stroke-width="0.8"/>
<path d="M268.83,795.50 C268.96,795.66 269.38,796.12 269.60,796.44 C269.83,796.75 270.05,797.06 270.18,797.38 C270.30,797.69 270.37,798.00 270.34,798.31 C270.32,798.62 270.20,798.94 270.03,799.25 C269.87,799.56 269.61,799.88 269.37,800.19 C269.13,800.50 268.82,800.81 268.60,801.12 C268.37,801.44 268.15,801.75 268.02,802.06 C267.90,802.38 267.83,802.69 267.86,803.00 C267.88,803.31 268.00,803.62 268.17,803.94 C268.33,804.25 268.59,804.56 268.83,804.88 C269.07,805.19 269.38,805.50 269.60,805.81 C269.83,806.12 270.05,806.44 270.18,806.75 C270.30,807.06 270.37,807.38 270.34,807.69 C270.32,808.00 270.20,808.31 270.03,808.62 C269.87,808.94 269.61,809.25 269.37,809.56 C269.13,809.88 268.73,810.34 268.60,810.50" fill="none" stroke="#808080" stroke-width="0.8"/>
<line x1="168.40" y1="776.00" x2="168.40" y2="812.00" stroke="#4a4a4a" stroke-width="1.1" />
<line x1="176.40" y1="779.70" x2="176.40" y2="812.40" stroke="#4a4a4a" stroke-width="1.1" />
<line x1="198.30" y1="776.00" x2="198.30" y2="817.00" stroke="#4a4a4a" stroke-width="1.1" />
<line x1="206.20" y1="781.00" x2="206.20" y2="811.00" stroke="#4a4a4a" stroke-width="1.1" />
<line x1="228.60" y1="776.60" x2="228.60" y2="818.00" stroke="#4a4a4a" stroke-width="1.1" />
<line x1="236.60" y1="776.60" x2="236.60" y2="818.00" stroke="#4a4a4a" stroke-width="1.1" />
<line x1="254.50" y1="776.00" x2="254.50" y2="817.00" stroke="#4a4a4a" stroke-width="1.1" />
<line x1="262.60" y1="782.00" x2="262.60" y2="817.00" stroke="#4a4a4a" stroke-width="1.1" />
<circle cx="154.60" cy="777.70" r="3.55" fill="#f7eca4" stroke="#a89a55" stroke-width="0.8"/>
<circle cx="162.80" cy="777.70" r="3.55" fill="#f7eca4" stroke="#a89a55" stroke-width="0.8"/>
<circle cx="178.60" cy="777.70" r="3.55" fill="#f7eca4" stroke="#a89a55" stroke-width="0.8"/>
<circle cx="186.30" cy="777.70" r="3.55" fill="#f7eca4" stroke="#a89a55" stroke-width="0.8"/>
<circle cx="193.40" cy="777.70" r="3.55" fill="#f7eca4" stroke="#a89a55" stroke-width="0.8"/>
<circle cx="207.70" cy="777.70" r="3.55" fill="#f7eca4" stroke="#a89a55" stroke-width="0.8"/>
<circle cx="214.60" cy="777.70" r="3.55" fill="#f7eca4" stroke="#a89a55" stroke-width="0.8"/>
<circle cx="221.80" cy="777.70" r="3.55" fill="#f7eca4" stroke="#a89a55" stroke-width="0.8"/>
<circle cx="243.20" cy="777.70" r="3.55" fill="#f7eca4" stroke="#a89a55" stroke-width="0.8"/>
<circle cx="250.40" cy="777.70" r="3.55" fill="#f7eca4" stroke="#a89a55" stroke-width="0.8"/>
<circle cx="264.20" cy="777.70" r="3.55" fill="#f7eca4" stroke="#a89a55" stroke-width="0.8"/>
<circle cx="271.30" cy="777.70" r="3.55" fill="#f7eca4" stroke="#a89a55" stroke-width="0.8"/>
<circle cx="159.70" cy="815.00" r="3.55" fill="#f7eca4" stroke="#a89a55" stroke-width="0.8"/>
<circle cx="167.40" cy="815.00" r="3.55" fill="#f7eca4" stroke="#a89a55" stroke-width="0.8"/>
<circle cx="178.60" cy="815.00" r="3.55" fill="#f7eca4" stroke="#a89a55" stroke-width="0.8"/>
<circle cx="185.80" cy="815.00" r="3.55" fill="#f7eca4" stroke="#a89a55" stroke-width="0.8"/>
<circle cx="193.40" cy="815.00" r="3.55" fill="#f7eca4" stroke="#a89a55" stroke-width="0.8"/>
<circle cx="207.70" cy="815.00" r="3.55" fill="#f7eca4" stroke="#a89a55" stroke-width="0.8"/>
<circle cx="214.60" cy="815.00" r="3.55" fill="#f7eca4" stroke="#a89a55" stroke-width="0.8"/>
<circle cx="221.80" cy="815.00" r="3.55" fill="#f7eca4" stroke="#a89a55" stroke-width="0.8"/>
<circle cx="243.20" cy="815.00" r="3.55" fill="#f7eca4" stroke="#a89a55" stroke-width="0.8"/>
<circle cx="250.40" cy="815.00" r="3.55" fill="#f7eca4" stroke="#a89a55" stroke-width="0.8"/>
<circle cx="268.80" cy="815.00" r="3.55" fill="#f7eca4" stroke="#a89a55" stroke-width="0.8"/>
<circle cx="172.00" cy="797.40" r="2.6" fill="#3d4ea5"/>
<circle cx="202.30" cy="787.90" r="2.6" fill="#3d4ea5"/>
<circle cx="202.30" cy="808.30" r="2.6" fill="#3d4ea5"/>
<circle cx="232.70" cy="801.20" r="2.6" fill="#3d4ea5"/>
<circle cx="232.70" cy="811.90" r="2.6" fill="#3d4ea5"/>
<circle cx="258.80" cy="786.30" r="2.6" fill="#3d4ea5"/>
<circle cx="258.80" cy="811.40" r="2.6" fill="#3d4ea5"/>
<path d="M153.50,829.00 C153.80,827.90 155.28,827.32 156.60,826.80 C157.92,826.28 159.80,826.33 161.40,825.90 C163.00,825.47 164.88,824.42 166.20,824.20 C167.52,823.98 168.28,824.27 169.30,824.60 C170.32,824.93 171.28,826.12 172.30,826.20 C173.32,826.28 174.45,825.20 175.40,825.10 C176.35,825.00 177.32,824.95 178.00,825.60 C178.68,826.25 179.62,827.60 179.50,829.00 C179.38,830.40 177.92,832.75 177.30,834.00 C176.68,835.25 176.23,835.50 175.80,836.50 C175.37,837.50 175.78,839.20 174.70,840.00 C173.62,840.80 171.37,841.23 169.30,841.30 C167.23,841.37 164.20,840.98 162.30,840.40 C160.40,839.82 159.15,838.97 157.90,837.80 C156.65,836.63 155.53,834.87 154.80,833.40 C154.07,831.93 153.20,830.10 153.50,829.00 Z" fill="url(#tan)" stroke="#8a6a3c" stroke-width="0.9"/>
<path d="M183.70,829.00 C184.00,827.90 185.48,827.32 186.80,826.80 C188.12,826.28 190.00,826.33 191.60,825.90 C193.20,825.47 195.08,824.42 196.40,824.20 C197.72,823.98 198.48,824.27 199.50,824.60 C200.52,824.93 201.48,826.12 202.50,826.20 C203.52,826.28 204.65,825.20 205.60,825.10 C206.55,825.00 207.52,824.95 208.20,825.60 C208.88,826.25 209.82,827.60 209.70,829.00 C209.58,830.40 208.12,832.75 207.50,834.00 C206.88,835.25 206.43,835.50 206.00,836.50 C205.57,837.50 205.98,839.20 204.90,840.00 C203.82,840.80 201.57,841.23 199.50,841.30 C197.43,841.37 194.40,840.98 192.50,840.40 C190.60,839.82 189.35,838.97 188.10,837.80 C186.85,836.63 185.73,834.87 185.00,833.40 C184.27,831.93 183.40,830.10 183.70,829.00 Z" fill="url(#tan)" stroke="#8a6a3c" stroke-width="0.9"/>
<path d="M220.30,829.90 C220.25,828.92 222.48,826.60 223.50,825.50 C224.52,824.40 225.42,823.58 226.40,823.30 C227.38,823.02 228.30,823.22 229.40,823.80 C230.50,824.38 231.82,826.80 233.00,826.80 C234.18,826.80 235.57,824.33 236.50,823.80 C237.43,823.27 238.08,822.73 238.60,823.60 C239.12,824.47 239.67,827.37 239.60,829.00 C239.53,830.63 239.17,832.73 238.20,833.40 C237.23,834.07 235.03,832.85 233.80,833.00 C232.57,833.15 231.82,834.38 230.80,834.30 C229.78,834.22 228.87,832.98 227.70,832.50 C226.53,832.02 225.03,831.83 223.80,831.40 C222.57,830.97 220.35,830.88 220.30,829.90 Z" fill="#7b85c6" stroke="#2f3680" stroke-width="1.0"/>
<path d="M246.50,829.90 C246.45,828.92 248.68,826.60 249.70,825.50 C250.72,824.40 251.62,823.58 252.60,823.30 C253.58,823.02 254.50,823.22 255.60,823.80 C256.70,824.38 258.02,826.80 259.20,826.80 C260.38,826.80 261.77,824.33 262.70,823.80 C263.63,823.27 264.28,822.73 264.80,823.60 C265.32,824.47 265.87,827.37 265.80,829.00 C265.73,830.63 265.37,832.73 264.40,833.40 C263.43,834.07 261.23,832.85 260.00,833.00 C258.77,833.15 258.02,834.38 257.00,834.30 C255.98,834.22 255.07,832.98 253.90,832.50 C252.73,832.02 251.23,831.83 250.00,831.40 C248.77,830.97 246.55,830.88 246.50,829.90 Z" fill="#7b85c6" stroke="#2f3680" stroke-width="1.0"/>
<circle cx="172.30" cy="822.40" r="2.7" fill="#5cb04a" stroke="#e8f4e0" stroke-width="0.6"/>
<circle cx="202.50" cy="822.40" r="2.7" fill="#5cb04a" stroke="#e8f4e0" stroke-width="0.6"/>
<circle cx="233.00" cy="822.40" r="2.7" fill="#5cb04a" stroke="#e8f4e0" stroke-width="0.6"/>
<circle cx="258.80" cy="822.40" r="2.7" fill="#5cb04a" stroke="#e8f4e0" stroke-width="0.6"/>
<text x="106.50" y="781.20" font-size="12.7" text-anchor="middle" fill="#1a1a1a" >high cost,</text>
<text x="106.50" y="794.00" font-size="12.7" text-anchor="middle" fill="#1a1a1a" >high energy</text>
<text x="106.50" y="806.80" font-size="12.7" text-anchor="middle" fill="#1a1a1a" >yield</text>
<text x="106.50" y="819.60" font-size="12.7" text-anchor="middle" fill="#1a1a1a" >pathway</text>
<text x="333.80" y="769.70" font-size="12.7" text-anchor="middle" fill="#1a1a1a" >low cost,</text>
<text x="333.80" y="782.45" font-size="12.7" text-anchor="middle" fill="#1a1a1a" >low energy</text>
<text x="333.80" y="795.20" font-size="12.7" text-anchor="middle" fill="#1a1a1a" >yield</text>
<text x="333.80" y="807.95" font-size="12.7" text-anchor="middle" fill="#1a1a1a" >pathway</text>
<line x1="133.60" y1="806.80" x2="165.30" y2="830.30" stroke="#111" stroke-width="1.4" />
<line x1="302.30" y1="802.30" x2="265.80" y2="825.70" stroke="#111" stroke-width="1.4" />
<path d="M185.00,848.50 L188.10,853.50 L181.90,853.50 Z" fill="#7cc16a"/>
<path d="M215.20,852.50 L218.30,857.50 L212.10,857.50 Z" fill="#7cc16a"/>
<path d="M228.50,853.60 L232.90,860.40 L224.10,860.40 Z" fill="#1f7a3a"/>
<path d="M254.60,851.60 L259.00,858.40 L250.20,858.40 Z" fill="#1f7a3a"/>
<path d="M175.4,837.8 L180.2,843.3" fill="none" stroke="#222" stroke-width="0.9" stroke-dasharray="1.2,1.0" marker-end="url(#ah)"/>
<path d="M206,836 C208,840 210,843 211.8,846.8" fill="none" stroke="#222" stroke-width="0.9" stroke-dasharray="1.2,1.0" marker-end="url(#ah)"/>
<path d="M235.8,836 C237,841 235,845 231,848.6" fill="none" stroke="#222" stroke-width="0.9" stroke-dasharray="1.2,1.0" marker-end="url(#ah)"/>
<path d="M233,834.5 C240,842 255,844 262,843 C266,842 265,845 259,848" fill="none" stroke="#222" stroke-width="0.9" stroke-dasharray="1.2,1.0" marker-end="url(#ah)"/>
<path d="M262,834 C266,838 272,840 281,839.5" fill="none" stroke="#222" stroke-width="0.9" stroke-dasharray="1.2,1.0" marker-end="url(#ah)"/>
<path d="M236,834 C248,838 265,839 280,838" fill="none" stroke="#222" stroke-width="0.9" stroke-dasharray="1.2,1.0"/>
<text x="282.00" y="829.60" font-size="12.7" text-anchor="start" fill="#1a1a1a" >Waste</text>
<line x1="281.40" y1="833.10" x2="312.00" y2="833.10" stroke="#222" stroke-width="1.3" />
<line x1="281.40" y1="844.80" x2="312.00" y2="844.80" stroke="#222" stroke-width="1.3" />
<path d="M286.00,836.10 L290.20,842.50 L281.80,842.50 Z" fill="#6a4424"/>
<path d="M296.60,836.10 L300.80,842.50 L292.40,842.50 Z" fill="#6a4424"/>
<path d="M302,839.5 C310,840 319,839.5 325.5,831.5" fill="none" stroke="#222" stroke-width="0.9" stroke-dasharray="1.2,1.0" marker-end="url(#ahb)"/>
<path d="M157.3,859.4 L204.9,875.5 L204.9,888.6 M269.7,859.4 L220.1,875.5 L220.1,888.6" fill="none" stroke="#222" stroke-width="1.5"/>
<path d="M109.60,917.50 C110.07,917.38 111.55,917.27 112.40,916.80 C113.25,916.33 113.98,915.82 114.70,914.70 C115.42,913.58 116.10,911.40 116.70,910.10 C117.30,908.80 118.00,907.72 118.30,906.90 C118.60,906.08 118.70,905.45 118.50,905.20 C118.30,904.95 117.73,904.88 117.10,905.40 C116.47,905.92 115.27,907.23 114.70,908.30 C114.13,909.37 113.62,910.48 113.70,911.80 C113.78,913.12 114.43,914.97 115.20,916.20 C115.97,917.43 117.23,918.55 118.30,919.20 C119.37,919.85 120.63,920.28 121.60,920.10 C122.57,919.92 123.38,919.03 124.10,918.10 C124.82,917.17 125.60,915.10 125.90,914.50" fill="none" stroke="#6a70a8" stroke-width="1.3"/>
<path d="M149.40,909.70 C149.90,909.73 151.45,909.50 152.40,909.90 C153.35,910.30 154.62,911.13 155.10,912.10 C155.58,913.07 155.58,914.47 155.30,915.70 C155.02,916.93 154.12,918.15 153.40,919.50 C152.68,920.85 151.32,922.53 151.00,923.80 C150.68,925.07 151.08,926.08 151.50,927.10 C151.92,928.12 152.90,929.07 153.50,929.90 C154.10,930.73 154.83,931.73 155.10,932.10" fill="none" stroke="#6a70a8" stroke-width="1.3"/>
<path d="M127.30,911.00 C126.38,911.92 126.70,913.68 126.80,915.10 C126.90,916.52 126.88,917.18 127.80,918.10 C128.72,919.02 129.76,919.28 131.40,919.70 C133.04,920.12 134.26,919.90 136.00,920.20 C137.74,920.50 138.58,921.30 140.10,921.20 C141.62,921.10 142.18,920.32 143.60,919.70 C145.02,919.08 145.86,918.82 147.20,918.10 C148.54,917.38 149.78,917.22 150.30,916.10 C150.82,914.98 150.00,913.72 149.80,912.50 C149.60,911.28 150.22,910.50 149.30,910.00 C148.38,909.50 146.74,909.80 145.20,910.00 C143.66,910.20 143.04,910.90 141.60,911.00 C140.16,911.10 139.44,910.24 138.00,910.50 C136.56,910.76 135.72,912.30 134.40,912.30 C133.08,912.30 132.82,910.76 131.40,910.50 C129.98,910.24 128.22,910.08 127.30,911.00 Z" fill="#a07598" stroke="#24141a" stroke-width="1.25" stroke-linejoin="round"/>
<path d="M127.50,910.50 C126.42,909.38 125.84,906.74 126.00,904.90 C126.16,903.06 127.08,902.34 128.30,901.30 C129.52,900.26 130.88,900.62 132.10,899.70 C133.32,898.78 133.12,897.56 134.40,896.70 C135.68,895.84 136.86,895.50 138.50,895.40 C140.14,895.30 141.26,895.58 142.60,896.20 C143.94,896.82 144.28,897.58 145.20,898.50 C146.12,899.42 146.50,899.74 147.20,900.80 C147.90,901.86 148.44,902.38 148.70,903.80 C148.96,905.22 148.38,906.66 148.50,907.90 C148.62,909.14 149.96,909.58 149.30,910.00 C148.64,910.42 146.74,909.80 145.20,910.00 C143.66,910.20 143.04,910.90 141.60,911.00 C140.16,911.10 139.44,910.24 138.00,910.50 C136.56,910.76 135.72,912.30 134.40,912.30 C133.08,912.30 132.78,910.86 131.40,910.50 C130.02,910.14 128.58,911.62 127.50,910.50 Z" fill="url(#rtop)" stroke="#24141a" stroke-width="1.25" stroke-linejoin="round"/>
<path d="M158.90,917.50 C159.37,917.38 160.85,917.27 161.70,916.80 C162.55,916.33 163.28,915.82 164.00,914.70 C164.72,913.58 165.40,911.40 166.00,910.10 C166.60,908.80 167.30,907.72 167.60,906.90 C167.90,906.08 168.00,905.45 167.80,905.20 C167.60,904.95 167.03,904.88 166.40,905.40 C165.77,905.92 164.57,907.23 164.00,908.30 C163.43,909.37 162.92,910.48 163.00,911.80 C163.08,913.12 163.73,914.97 164.50,916.20 C165.27,917.43 166.53,918.55 167.60,919.20 C168.67,919.85 169.93,920.28 170.90,920.10 C171.87,919.92 172.68,919.03 173.40,918.10 C174.12,917.17 174.90,915.10 175.20,914.50" fill="none" stroke="#6a70a8" stroke-width="1.3"/>
<path d="M198.70,909.70 C199.20,909.73 200.75,909.50 201.70,909.90 C202.65,910.30 203.92,911.13 204.40,912.10 C204.88,913.07 204.88,914.47 204.60,915.70 C204.32,916.93 203.42,918.15 202.70,919.50 C201.98,920.85 200.62,922.53 200.30,923.80 C199.98,925.07 200.38,926.08 200.80,927.10 C201.22,928.12 202.20,929.07 202.80,929.90 C203.40,930.73 204.13,931.73 204.40,932.10" fill="none" stroke="#6a70a8" stroke-width="1.3"/>
<path d="M176.60,911.00 C175.68,911.92 176.00,913.68 176.10,915.10 C176.20,916.52 176.18,917.18 177.10,918.10 C178.02,919.02 179.06,919.28 180.70,919.70 C182.34,920.12 183.56,919.90 185.30,920.20 C187.04,920.50 187.88,921.30 189.40,921.20 C190.92,921.10 191.48,920.32 192.90,919.70 C194.32,919.08 195.16,918.82 196.50,918.10 C197.84,917.38 199.08,917.22 199.60,916.10 C200.12,914.98 199.30,913.72 199.10,912.50 C198.90,911.28 199.52,910.50 198.60,910.00 C197.68,909.50 196.04,909.80 194.50,910.00 C192.96,910.20 192.34,910.90 190.90,911.00 C189.46,911.10 188.74,910.24 187.30,910.50 C185.86,910.76 185.02,912.30 183.70,912.30 C182.38,912.30 182.12,910.76 180.70,910.50 C179.28,910.24 177.52,910.08 176.60,911.00 Z" fill="#a07598" stroke="#24141a" stroke-width="1.25" stroke-linejoin="round"/>
<path d="M176.80,910.50 C175.72,909.38 175.14,906.74 175.30,904.90 C175.46,903.06 176.38,902.34 177.60,901.30 C178.82,900.26 180.18,900.62 181.40,899.70 C182.62,898.78 182.42,897.56 183.70,896.70 C184.98,895.84 186.16,895.50 187.80,895.40 C189.44,895.30 190.56,895.58 191.90,896.20 C193.24,896.82 193.58,897.58 194.50,898.50 C195.42,899.42 195.80,899.74 196.50,900.80 C197.20,901.86 197.74,902.38 198.00,903.80 C198.26,905.22 197.68,906.66 197.80,907.90 C197.92,909.14 199.26,909.58 198.60,910.00 C197.94,910.42 196.04,909.80 194.50,910.00 C192.96,910.20 192.34,910.90 190.90,911.00 C189.46,911.10 188.74,910.24 187.30,910.50 C185.86,910.76 185.02,912.30 183.70,912.30 C182.38,912.30 182.08,910.86 180.70,910.50 C179.32,910.14 177.88,911.62 176.80,910.50 Z" fill="url(#rtop)" stroke="#24141a" stroke-width="1.25" stroke-linejoin="round"/>
<path d="M209.20,917.50 C209.67,917.38 211.15,917.27 212.00,916.80 C212.85,916.33 213.58,915.82 214.30,914.70 C215.02,913.58 215.70,911.40 216.30,910.10 C216.90,908.80 217.60,907.72 217.90,906.90 C218.20,906.08 218.30,905.45 218.10,905.20 C217.90,904.95 217.33,904.88 216.70,905.40 C216.07,905.92 214.87,907.23 214.30,908.30 C213.73,909.37 213.22,910.48 213.30,911.80 C213.38,913.12 214.03,914.97 214.80,916.20 C215.57,917.43 216.83,918.55 217.90,919.20 C218.97,919.85 220.23,920.28 221.20,920.10 C222.17,919.92 222.98,919.03 223.70,918.10 C224.42,917.17 225.20,915.10 225.50,914.50" fill="none" stroke="#6a70a8" stroke-width="1.3"/>
<path d="M249.00,909.70 C249.50,909.73 251.05,909.50 252.00,909.90 C252.95,910.30 254.22,911.13 254.70,912.10 C255.18,913.07 255.18,914.47 254.90,915.70 C254.62,916.93 253.72,918.15 253.00,919.50 C252.28,920.85 250.92,922.53 250.60,923.80 C250.28,925.07 250.68,926.08 251.10,927.10 C251.52,928.12 252.50,929.07 253.10,929.90 C253.70,930.73 254.43,931.73 254.70,932.10" fill="none" stroke="#6a70a8" stroke-width="1.3"/>
<path d="M226.90,911.00 C225.98,911.92 226.30,913.68 226.40,915.10 C226.50,916.52 226.48,917.18 227.40,918.10 C228.32,919.02 229.36,919.28 231.00,919.70 C232.64,920.12 233.86,919.90 235.60,920.20 C237.34,920.50 238.18,921.30 239.70,921.20 C241.22,921.10 241.78,920.32 243.20,919.70 C244.62,919.08 245.46,918.82 246.80,918.10 C248.14,917.38 249.38,917.22 249.90,916.10 C250.42,914.98 249.60,913.72 249.40,912.50 C249.20,911.28 249.82,910.50 248.90,910.00 C247.98,909.50 246.34,909.80 244.80,910.00 C243.26,910.20 242.64,910.90 241.20,911.00 C239.76,911.10 239.04,910.24 237.60,910.50 C236.16,910.76 235.32,912.30 234.00,912.30 C232.68,912.30 232.42,910.76 231.00,910.50 C229.58,910.24 227.82,910.08 226.90,911.00 Z" fill="#a07598" stroke="#24141a" stroke-width="1.25" stroke-linejoin="round"/>
<path d="M227.10,910.50 C226.02,909.38 225.44,906.74 225.60,904.90 C225.76,903.06 226.68,902.34 227.90,901.30 C229.12,900.26 230.48,900.62 231.70,899.70 C232.92,898.78 232.72,897.56 234.00,896.70 C235.28,895.84 236.46,895.50 238.10,895.40 C239.74,895.30 240.86,895.58 242.20,896.20 C243.54,896.82 243.88,897.58 244.80,898.50 C245.72,899.42 246.10,899.74 246.80,900.80 C247.50,901.86 248.04,902.38 248.30,903.80 C248.56,905.22 247.98,906.66 248.10,907.90 C248.22,909.14 249.56,909.58 248.90,910.00 C248.24,910.42 246.34,909.80 244.80,910.00 C243.26,910.20 242.64,910.90 241.20,911.00 C239.76,911.10 239.04,910.24 237.60,910.50 C236.16,910.76 235.32,912.30 234.00,912.30 C232.68,912.30 232.38,910.86 231.00,910.50 C229.62,910.14 228.18,911.62 227.10,910.50 Z" fill="url(#rtop)" stroke="#24141a" stroke-width="1.25" stroke-linejoin="round"/>
<path d="M273.20,917.80 C273.72,917.73 275.20,918.48 276.30,917.40 C277.40,916.32 278.63,913.42 279.80,911.30 C280.97,909.18 282.50,905.58 283.30,904.70 C284.10,903.82 284.73,905.37 284.60,906.00 C284.47,906.63 283.45,907.92 282.50,908.50 C281.55,909.08 279.65,908.45 278.90,909.50 C278.15,910.55 277.57,913.05 278.00,914.80 C278.43,916.55 280.03,918.83 281.50,920.00 C282.97,921.17 285.48,922.53 286.80,921.80 C288.12,921.07 288.75,917.07 289.40,915.60 C290.05,914.13 290.48,913.43 290.70,913.00" fill="none" stroke="#6a70a8" stroke-width="1.3"/>
<text x="266.20" y="917.20" font-size="13" text-anchor="middle" fill="#1a1a1a" >+</text>
<path d="M290.7,912.1 L295.5,910.4 L300.4,911.3 L302.5,909.1 L306.5,913.9 L304.3,920 L299.9,918.3 L292.9,918.7 L290.5,916.5 Z" fill="#97698f" stroke="#111" stroke-width="1.8" stroke-linejoin="round"/>
<path d="M289.4,903.8 L293.8,900.3 L299,895.5 L304.3,901.2 L300.4,907.3 L301.5,909.5 L298.2,911.3 L292.9,910.4 L290.3,908.6 Z" fill="url(#rtop)" stroke="#111" stroke-width="1.8" stroke-linejoin="round"/>
<text x="263.20" y="938.20" font-size="12.7" text-anchor="start" fill="#1a1a1a" >(0.5 ribosomes)</text>
<path d="M181.00,980.80 A31.7,31.7 0 0 1 244.40,980.80" fill="none" stroke="#111" stroke-width="1.8"/>
<path d="M213.20,977.20 L238.00,966.90 L238.50,967.80 L215.50,980.20 Z" fill="#a4668a"/>
<path d="M214.20,977.40 L242.20,976.40 L242.20,979.80 L214.70,980.30 Z" fill="#d8b27a"/>
<path d="M222.70,977.20 L242.20,976.80 L242.20,978.20 L222.70,978.20 Z" fill="#5566b0" fill-opacity="0.85"/>
<line x1="180.10" y1="980.80" x2="245.30" y2="980.80" stroke="#111" stroke-width="2.6" />
<circle cx="212.70" cy="980.00" r="2.9" fill="#111"/>
<text x="216.50" y="944.40" font-size="12.6" text-anchor="middle" fill="#1a1a1a" >0.5</text>
<text x="178.40" y="985.40" font-size="12.6" text-anchor="end" fill="#1a1a1a" >0</text>
<text x="246.40" y="985.40" font-size="12.6" text-anchor="start" fill="#1a1a1a" >1</text>
<text x="207.10" y="995.40" font-size="12.8" font-style="italic" fill="#111">k<tspan font-style="normal" font-size="9.6" dy="3">eff</tspan></text>
<line x1="205.40" y1="1001.70" x2="223.80" y2="1001.70" stroke="#111" stroke-width="1.0" />
<text x="204.90" y="1012.00" font-size="12.8" font-style="italic" fill="#111">k<tspan font-style="normal" font-size="9.6" dy="3">cat</tspan></text>
<text x="474.40" y="712.40" font-size="12.8" text-anchor="start" fill="#1a1a1a" >Batch</text>
<circle cx="445.80" cy="724.80" r="2.6" fill="#3d4ea5"/>
<circle cx="461.20" cy="727.30" r="2.6" fill="#3d4ea5"/>
<circle cx="482.30" cy="724.10" r="2.6" fill="#3d4ea5"/>
<circle cx="502.90" cy="723.60" r="2.6" fill="#3d4ea5"/>
<circle cx="524.00" cy="727.30" r="2.6" fill="#3d4ea5"/>
<circle cx="432.70" cy="733.50" r="2.6" fill="#3d4ea5"/>
<circle cx="448.80" cy="735.50" r="2.6" fill="#3d4ea5"/>
<circle cx="472.70" cy="734.70" r="2.6" fill="#3d4ea5"/>
<circle cx="497.20" cy="733.50" r="2.6" fill="#3d4ea5"/>
<circle cx="532.00" cy="738.00" r="2.6" fill="#3d4ea5"/>
<circle cx="419.30" cy="741.00" r="2.6" fill="#3d4ea5"/>
<circle cx="442.90" cy="740.50" r="2.6" fill="#3d4ea5"/>
<circle cx="454.00" cy="741.00" r="2.6" fill="#3d4ea5"/>
<circle cx="508.60" cy="738.50" r="2.6" fill="#3d4ea5"/>
<circle cx="517.80" cy="741.40" r="2.6" fill="#3d4ea5"/>
<circle cx="546.40" cy="745.40" r="2.6" fill="#3d4ea5"/>
<circle cx="432.20" cy="745.20" r="2.6" fill="#3d4ea5"/>
<circle cx="496.20" cy="744.20" r="2.6" fill="#3d4ea5"/>
<circle cx="529.00" cy="747.20" r="2.6" fill="#3d4ea5"/>
<circle cx="537.70" cy="751.40" r="2.6" fill="#3d4ea5"/>
<circle cx="457.50" cy="755.10" r="2.6" fill="#3d4ea5"/>
<circle cx="469.40" cy="755.10" r="2.6" fill="#3d4ea5"/>
<circle cx="479.90" cy="751.60" r="2.6" fill="#3d4ea5"/>
<circle cx="494.20" cy="753.40" r="2.6" fill="#3d4ea5"/>
<circle cx="517.80" cy="752.90" r="2.6" fill="#3d4ea5"/>
<circle cx="432.90" cy="758.30" r="2.6" fill="#3d4ea5"/>
<circle cx="486.30" cy="761.60" r="2.6" fill="#3d4ea5"/>
<circle cx="507.20" cy="761.60" r="2.6" fill="#3d4ea5"/>
<circle cx="517.10" cy="760.30" r="2.6" fill="#3d4ea5"/>
<circle cx="545.90" cy="761.60" r="2.6" fill="#3d4ea5"/>
<circle cx="423.00" cy="765.80" r="2.6" fill="#3d4ea5"/>
<circle cx="444.10" cy="767.50" r="2.6" fill="#3d4ea5"/>
<circle cx="466.40" cy="765.80" r="2.6" fill="#3d4ea5"/>
<circle cx="478.10" cy="767.50" r="2.6" fill="#3d4ea5"/>
<path d="M442.9,740.5 C444,747 448,752 455,750 C463,748 470,744 476,742 C481,740 484,736 491,735.5" fill="none" stroke="#111" stroke-width="0.9" stroke-dasharray="1.3,1.1" marker-end="url(#ah)"/>
<path d="M438.4,758.3 C446,758 455,758.5 457,763 C458,766 458.3,769 458.3,772.8" fill="none" stroke="#111" stroke-width="0.9" marker-end="url(#ah)"/>
<path d="M514.1,752.6 C505,753 498,755 494,760 C491,764 489.5,768 489.3,774" fill="none" stroke="#111" stroke-width="0.9" stroke-dasharray="1.3,1.1" marker-end="url(#ah)"/>
<path d="M521.5,760.8 C529,760.5 537,761 540,765 C541.5,768 541.9,771 541.9,774" fill="none" stroke="#111" stroke-width="0.9" marker-end="url(#ah)"/>
<path d="M407.10,780.70 C407.22,780.86 407.64,781.33 407.83,781.64 C408.03,781.95 408.21,782.26 408.29,782.58 C408.36,782.89 408.36,783.20 408.29,783.51 C408.21,783.83 408.03,784.14 407.83,784.45 C407.64,784.76 407.34,785.08 407.10,785.39 C406.86,785.70 406.56,786.01 406.37,786.33 C406.17,786.64 405.99,786.95 405.91,787.26 C405.84,787.58 405.84,787.89 405.91,788.20 C405.99,788.51 406.17,788.83 406.37,789.14 C406.56,789.45 406.86,789.76 407.10,790.08 C407.34,790.39 407.64,790.70 407.83,791.01 C408.03,791.33 408.21,791.64 408.29,791.95 C408.36,792.26 408.36,792.58 408.29,792.89 C408.21,793.20 408.03,793.51 407.83,793.83 C407.64,794.14 407.34,794.45 407.10,794.76 C406.86,795.08 406.49,795.54 406.37,795.70" fill="none" stroke="#808080" stroke-width="0.8"/>
<path d="M416.10,780.70 C416.00,780.86 415.71,781.33 415.47,781.64 C415.24,781.95 414.93,782.26 414.70,782.58 C414.47,782.89 414.22,783.20 414.08,783.51 C413.94,783.83 413.85,784.14 413.85,784.45 C413.85,784.76 413.95,785.08 414.10,785.39 C414.24,785.70 414.49,786.01 414.73,786.33 C414.96,786.64 415.27,786.95 415.50,787.26 C415.73,787.58 415.98,787.89 416.12,788.20 C416.26,788.51 416.35,788.83 416.35,789.14 C416.35,789.45 416.25,789.76 416.10,790.08 C415.96,790.39 415.71,790.70 415.47,791.01 C415.24,791.33 414.93,791.64 414.70,791.95 C414.47,792.26 414.22,792.58 414.08,792.89 C413.94,793.20 413.85,793.51 413.85,793.83 C413.85,794.14 413.95,794.45 414.10,794.76 C414.24,795.08 414.62,795.54 414.73,795.70" fill="none" stroke="#808080" stroke-width="0.8"/>
<path d="M421.30,780.70 C421.31,780.86 421.24,781.33 421.32,781.64 C421.40,781.95 421.59,782.26 421.79,782.58 C421.99,782.89 422.28,783.20 422.53,783.51 C422.77,783.83 423.06,784.14 423.26,784.45 C423.45,784.76 423.63,785.08 423.70,785.39 C423.77,785.70 423.76,786.01 423.68,786.33 C423.60,786.64 423.41,786.95 423.21,787.26 C423.01,787.58 422.72,787.89 422.47,788.20 C422.23,788.51 421.94,788.83 421.74,789.14 C421.55,789.45 421.37,789.76 421.30,790.08 C421.23,790.39 421.24,790.70 421.32,791.01 C421.40,791.33 421.59,791.64 421.79,791.95 C421.99,792.26 422.28,792.58 422.53,792.89 C422.77,793.20 423.06,793.51 423.26,793.83 C423.45,794.14 423.63,794.45 423.70,794.76 C423.77,795.08 423.68,795.54 423.68,795.70" fill="none" stroke="#808080" stroke-width="0.8"/>
<path d="M436.82,780.70 C436.93,780.86 437.30,781.33 437.43,781.64 C437.57,781.95 437.66,782.26 437.65,782.58 C437.64,782.89 437.54,783.20 437.39,783.51 C437.24,783.83 436.98,784.14 436.75,784.45 C436.51,784.76 436.21,785.08 435.98,785.39 C435.74,785.70 435.50,786.01 435.37,786.33 C435.23,786.64 435.14,786.95 435.15,787.26 C435.16,787.58 435.26,787.89 435.41,788.20 C435.56,788.51 435.82,788.83 436.05,789.14 C436.29,789.45 436.59,789.76 436.82,790.08 C437.06,790.39 437.30,790.70 437.43,791.01 C437.57,791.33 437.66,791.64 437.65,791.95 C437.64,792.26 437.54,792.58 437.39,792.89 C437.24,793.20 436.98,793.51 436.75,793.83 C436.51,794.14 436.21,794.45 435.98,794.76 C435.74,795.08 435.47,795.54 435.37,795.70" fill="none" stroke="#808080" stroke-width="0.8"/>
<path d="M444.49,780.70 C444.37,780.86 443.99,781.33 443.75,781.64 C443.50,781.95 443.21,782.26 443.02,782.58 C442.83,782.89 442.66,783.20 442.60,783.51 C442.53,783.83 442.54,784.14 442.63,784.45 C442.71,784.76 442.91,785.08 443.11,785.39 C443.31,785.70 443.61,786.01 443.85,786.33 C444.10,786.64 444.39,786.95 444.58,787.26 C444.77,787.58 444.94,787.89 445.00,788.20 C445.07,788.51 445.06,788.83 444.97,789.14 C444.89,789.45 444.69,789.76 444.49,790.08 C444.29,790.39 443.99,790.70 443.75,791.01 C443.50,791.33 443.21,791.64 443.02,791.95 C442.83,792.26 442.66,792.58 442.60,792.89 C442.53,793.20 442.54,793.51 442.63,793.83 C442.71,794.14 442.91,794.45 443.11,794.76 C443.31,795.08 443.73,795.54 443.85,795.70" fill="none" stroke="#808080" stroke-width="0.8"/>
<path d="M450.05,780.70 C450.10,780.86 450.18,781.33 450.33,781.64 C450.48,781.95 450.74,782.26 450.98,782.58 C451.22,782.89 451.52,783.20 451.75,783.51 C451.98,783.83 452.22,784.14 452.35,784.45 C452.48,784.76 452.56,785.08 452.55,785.39 C452.53,785.70 452.42,786.01 452.27,786.33 C452.12,786.64 451.86,786.95 451.62,787.26 C451.38,787.58 451.08,787.89 450.85,788.20 C450.62,788.51 450.38,788.83 450.25,789.14 C450.12,789.45 450.04,789.76 450.05,790.08 C450.07,790.39 450.18,790.70 450.33,791.01 C450.48,791.33 450.74,791.64 450.98,791.95 C451.22,792.26 451.52,792.58 451.75,792.89 C451.98,793.20 452.22,793.51 452.35,793.83 C452.48,794.14 452.56,794.45 452.55,794.76 C452.53,795.08 452.32,795.54 452.27,795.70" fill="none" stroke="#808080" stroke-width="0.8"/>
<path d="M473.20,780.70 C473.27,780.86 473.55,781.33 473.61,781.64 C473.67,781.95 473.65,782.26 473.56,782.58 C473.47,782.89 473.27,783.20 473.07,783.51 C472.86,783.83 472.56,784.14 472.32,784.45 C472.07,784.76 471.79,785.08 471.60,785.39 C471.41,785.70 471.25,786.01 471.19,786.33 C471.13,786.64 471.15,786.95 471.24,787.26 C471.33,787.58 471.53,787.89 471.73,788.20 C471.94,788.51 472.24,788.83 472.48,789.14 C472.73,789.45 473.01,789.76 473.20,790.08 C473.39,790.39 473.55,790.70 473.61,791.01 C473.67,791.33 473.65,791.64 473.56,791.95 C473.47,792.26 473.27,792.58 473.07,792.89 C472.86,793.20 472.56,793.51 472.32,793.83 C472.07,794.14 471.79,794.45 471.60,794.76 C471.41,795.08 471.26,795.54 471.19,795.70" fill="none" stroke="#808080" stroke-width="0.8"/>
<path d="M480.09,780.70 C479.97,780.86 479.55,781.33 479.32,781.64 C479.10,781.95 478.86,782.26 478.74,782.58 C478.61,782.89 478.53,783.20 478.55,783.51 C478.57,783.83 478.69,784.14 478.85,784.45 C479.01,784.76 479.27,785.08 479.51,785.39 C479.74,785.70 480.05,786.01 480.28,786.33 C480.50,786.64 480.74,786.95 480.86,787.26 C480.99,787.58 481.07,787.89 481.05,788.20 C481.03,788.51 480.91,788.83 480.75,789.14 C480.59,789.45 480.33,789.76 480.09,790.08 C479.86,790.39 479.55,790.70 479.32,791.01 C479.10,791.33 478.86,791.64 478.74,791.95 C478.61,792.26 478.53,792.58 478.55,792.89 C478.57,793.20 478.69,793.51 478.85,793.83 C479.01,794.14 479.27,794.45 479.51,794.76 C479.74,795.08 480.15,795.54 480.28,795.70" fill="none" stroke="#808080" stroke-width="0.8"/>
<path d="M494.05,780.70 C494.13,780.86 494.35,781.33 494.56,781.64 C494.77,781.95 495.06,782.26 495.31,782.58 C495.55,782.89 495.84,783.20 496.02,783.51 C496.20,783.83 496.36,784.14 496.42,784.45 C496.47,784.76 496.45,785.08 496.35,785.39 C496.26,785.70 496.05,786.01 495.84,786.33 C495.63,786.64 495.34,786.95 495.09,787.26 C494.85,787.58 494.56,787.89 494.38,788.20 C494.20,788.51 494.04,788.83 493.98,789.14 C493.93,789.45 493.95,789.76 494.05,790.08 C494.14,790.39 494.35,790.70 494.56,791.01 C494.77,791.33 495.06,791.64 495.31,791.95 C495.55,792.26 495.84,792.58 496.02,792.89 C496.20,793.20 496.36,793.51 496.42,793.83 C496.47,794.14 496.45,794.45 496.35,794.76 C496.26,795.08 495.93,795.54 495.84,795.70" fill="none" stroke="#808080" stroke-width="0.8"/>
<path d="M503.78,780.70 C503.81,780.86 503.97,781.33 503.94,781.64 C503.92,781.95 503.80,782.26 503.63,782.58 C503.47,782.89 503.21,783.20 502.97,783.51 C502.73,783.83 502.42,784.14 502.20,784.45 C501.97,784.76 501.75,785.08 501.62,785.39 C501.50,785.70 501.43,786.01 501.46,786.33 C501.48,786.64 501.60,786.95 501.77,787.26 C501.93,787.58 502.19,787.89 502.43,788.20 C502.67,788.51 502.98,788.83 503.20,789.14 C503.43,789.45 503.65,789.76 503.78,790.08 C503.90,790.39 503.97,790.70 503.94,791.01 C503.92,791.33 503.80,791.64 503.63,791.95 C503.47,792.26 503.21,792.58 502.97,792.89 C502.73,793.20 502.42,793.51 502.20,793.83 C501.97,794.14 501.75,794.45 501.62,794.76 C501.50,795.08 501.48,795.54 501.46,795.70" fill="none" stroke="#808080" stroke-width="0.8"/>
<path d="M526.06,780.70 C525.95,780.86 525.54,781.33 525.36,781.64 C525.18,781.95 525.03,782.26 524.98,782.58 C524.93,782.89 524.96,783.20 525.06,783.51 C525.16,783.83 525.37,784.14 525.58,784.45 C525.79,784.76 526.09,785.08 526.34,785.39 C526.58,785.70 526.86,786.01 527.04,786.33 C527.22,786.64 527.37,786.95 527.42,787.26 C527.47,787.58 527.44,787.89 527.34,788.20 C527.24,788.51 527.03,788.83 526.82,789.14 C526.61,789.45 526.31,789.76 526.06,790.08 C525.82,790.39 525.54,790.70 525.36,791.01 C525.18,791.33 525.03,791.64 524.98,791.95 C524.93,792.26 524.96,792.58 525.06,792.89 C525.16,793.20 525.37,793.51 525.58,793.83 C525.79,794.14 526.09,794.45 526.34,794.76 C526.58,795.08 526.92,795.54 527.04,795.70" fill="none" stroke="#808080" stroke-width="0.8"/>
<path d="M532.78,780.70 C532.90,780.86 533.22,781.33 533.46,781.64 C533.70,781.95 534.00,782.26 534.23,782.58 C534.45,782.89 534.67,783.20 534.79,783.51 C534.91,783.83 534.97,784.14 534.94,784.45 C534.91,784.76 534.78,785.08 534.62,785.39 C534.45,785.70 534.18,786.01 533.94,786.33 C533.70,786.64 533.40,786.95 533.17,787.26 C532.95,787.58 532.73,787.89 532.61,788.20 C532.49,788.51 532.43,788.83 532.46,789.14 C532.49,789.45 532.62,789.76 532.78,790.08 C532.95,790.39 533.22,790.70 533.46,791.01 C533.70,791.33 534.00,791.64 534.23,791.95 C534.45,792.26 534.67,792.58 534.79,792.89 C534.91,793.20 534.97,793.51 534.94,793.83 C534.91,794.14 534.78,794.45 534.62,794.76 C534.45,795.08 534.05,795.54 533.94,795.70" fill="none" stroke="#808080" stroke-width="0.8"/>
<path d="M549.83,780.70 C549.81,780.86 549.83,781.33 549.73,781.64 C549.62,781.95 549.41,782.26 549.20,782.58 C548.98,782.89 548.68,783.20 548.44,783.51 C548.19,783.83 547.92,784.14 547.74,784.45 C547.56,784.76 547.42,785.08 547.37,785.39 C547.33,785.70 547.37,786.01 547.47,786.33 C547.58,786.64 547.79,786.95 548.00,787.26 C548.22,787.58 548.52,787.89 548.76,788.20 C549.01,788.51 549.28,788.83 549.46,789.14 C549.64,789.45 549.78,789.76 549.83,790.08 C549.87,790.39 549.83,790.70 549.73,791.01 C549.62,791.33 549.41,791.64 549.20,791.95 C548.98,792.26 548.68,792.58 548.44,792.89 C548.19,793.20 547.92,793.51 547.74,793.83 C547.56,794.14 547.42,794.45 547.37,794.76 C547.33,795.08 547.45,795.54 547.47,795.70" fill="none" stroke="#808080" stroke-width="0.8"/>
<path d="M555.45,780.70 C555.36,780.86 555.01,781.33 554.90,781.64 C554.78,781.95 554.73,782.26 554.76,782.58 C554.80,782.89 554.93,783.20 555.10,783.51 C555.27,783.83 555.54,784.14 555.79,784.45 C556.03,784.76 556.33,785.08 556.55,785.39 C556.77,785.70 556.99,786.01 557.10,786.33 C557.22,786.64 557.27,786.95 557.24,787.26 C557.20,787.58 557.07,787.89 556.90,788.20 C556.73,788.51 556.46,788.83 556.21,789.14 C555.97,789.45 555.67,789.76 555.45,790.08 C555.23,790.39 555.01,790.70 554.90,791.01 C554.78,791.33 554.73,791.64 554.76,791.95 C554.80,792.26 554.93,792.58 555.10,792.89 C555.27,793.20 555.54,793.51 555.79,793.83 C556.03,794.14 556.33,794.45 556.55,794.76 C556.77,795.08 557.01,795.54 557.10,795.70" fill="none" stroke="#808080" stroke-width="0.8"/>
<path d="M562.93,780.70 C563.05,780.86 563.45,781.33 563.69,781.64 C563.93,781.95 564.21,782.26 564.38,782.58 C564.55,782.89 564.69,783.20 564.73,783.51 C564.77,783.83 564.73,784.14 564.62,784.45 C564.51,784.76 564.29,785.08 564.07,785.39 C563.86,785.70 563.55,786.01 563.31,786.33 C563.07,786.64 562.79,786.95 562.62,787.26 C562.45,787.58 562.31,787.89 562.27,788.20 C562.23,788.51 562.27,788.83 562.38,789.14 C562.49,789.45 562.71,789.76 562.93,790.08 C563.14,790.39 563.45,790.70 563.69,791.01 C563.93,791.33 564.21,791.64 564.38,791.95 C564.55,792.26 564.69,792.58 564.73,792.89 C564.77,793.20 564.73,793.51 564.62,793.83 C564.51,794.14 564.29,794.45 564.07,794.76 C563.86,795.08 563.44,795.54 563.31,795.70" fill="none" stroke="#808080" stroke-width="0.8"/>
<path d="M408.90,793.90 C408.90,794.06 408.96,794.52 408.87,794.84 C408.79,795.15 408.59,795.46 408.39,795.77 C408.19,796.09 407.89,796.40 407.65,796.71 C407.40,797.02 407.11,797.34 406.92,797.65 C406.73,797.96 406.56,798.27 406.50,798.59 C406.43,798.90 406.44,799.21 406.53,799.52 C406.61,799.84 406.81,800.15 407.01,800.46 C407.21,800.77 407.51,801.09 407.75,801.40 C408.00,801.71 408.29,802.02 408.48,802.34 C408.67,802.65 408.84,802.96 408.90,803.27 C408.97,803.59 408.96,803.90 408.87,804.21 C408.79,804.52 408.59,804.84 408.39,805.15 C408.19,805.46 407.89,805.77 407.65,806.09 C407.40,806.40 407.11,806.71 406.92,807.02 C406.73,807.34 406.56,807.65 406.50,807.96 C406.43,808.27 406.52,808.74 406.53,808.90" fill="none" stroke="#808080" stroke-width="0.8"/>
<path d="M414.56,793.90 C414.55,794.06 414.43,794.52 414.48,794.84 C414.53,795.15 414.68,795.46 414.86,795.77 C415.04,796.09 415.32,796.40 415.56,796.71 C415.81,797.02 416.11,797.34 416.32,797.65 C416.53,797.96 416.74,798.27 416.84,798.59 C416.94,798.90 416.97,799.21 416.92,799.52 C416.87,799.84 416.72,800.15 416.54,800.46 C416.36,800.77 416.08,801.09 415.84,801.40 C415.59,801.71 415.29,802.02 415.08,802.34 C414.87,802.65 414.66,802.96 414.56,803.27 C414.46,803.59 414.43,803.90 414.48,804.21 C414.53,804.52 414.68,804.84 414.86,805.15 C415.04,805.46 415.32,805.77 415.56,806.09 C415.81,806.40 416.11,806.71 416.32,807.02 C416.53,807.34 416.74,807.65 416.84,807.96 C416.94,808.27 416.91,808.74 416.92,808.90" fill="none" stroke="#808080" stroke-width="0.8"/>
<path d="M424.15,793.90 C424.18,794.06 424.36,794.52 424.35,794.84 C424.33,795.15 424.22,795.46 424.07,795.77 C423.92,796.09 423.66,796.40 423.42,796.71 C423.18,797.02 422.88,797.34 422.65,797.65 C422.42,797.96 422.18,798.27 422.05,798.59 C421.92,798.90 421.84,799.21 421.85,799.52 C421.87,799.84 421.98,800.15 422.13,800.46 C422.28,800.77 422.54,801.09 422.78,801.40 C423.02,801.71 423.32,802.02 423.55,802.34 C423.78,802.65 424.02,802.96 424.15,803.27 C424.28,803.59 424.36,803.90 424.35,804.21 C424.33,804.52 424.22,804.84 424.07,805.15 C423.92,805.46 423.66,805.77 423.42,806.09 C423.18,806.40 422.88,806.71 422.65,807.02 C422.42,807.34 422.18,807.65 422.05,807.96 C421.92,808.27 421.88,808.74 421.85,808.90" fill="none" stroke="#808080" stroke-width="0.8"/>
<path d="M436.06,793.90 C436.01,794.06 435.78,794.52 435.76,794.84 C435.73,795.15 435.80,795.46 435.92,795.77 C436.05,796.09 436.28,796.40 436.50,796.71 C436.72,797.02 437.03,797.34 437.27,797.65 C437.51,797.96 437.77,798.27 437.94,798.59 C438.10,798.90 438.22,799.21 438.24,799.52 C438.27,799.84 438.20,800.15 438.08,800.46 C437.95,800.77 437.72,801.09 437.50,801.40 C437.28,801.71 436.97,802.02 436.73,802.34 C436.49,802.65 436.23,802.96 436.06,803.27 C435.90,803.59 435.78,803.90 435.76,804.21 C435.73,804.52 435.80,804.84 435.92,805.15 C436.05,805.46 436.28,805.77 436.50,806.09 C436.72,806.40 437.03,806.71 437.27,807.02 C437.51,807.34 437.77,807.65 437.94,807.96 C438.10,808.27 438.19,808.74 438.24,808.90" fill="none" stroke="#808080" stroke-width="0.8"/>
<path d="M445.20,793.90 C445.27,794.06 445.55,794.52 445.61,794.84 C445.67,795.15 445.65,795.46 445.56,795.77 C445.47,796.09 445.27,796.40 445.07,796.71 C444.86,797.02 444.56,797.34 444.32,797.65 C444.07,797.96 443.79,798.27 443.60,798.59 C443.41,798.90 443.25,799.21 443.19,799.52 C443.13,799.84 443.15,800.15 443.24,800.46 C443.33,800.77 443.53,801.09 443.73,801.40 C443.94,801.71 444.24,802.02 444.48,802.34 C444.73,802.65 445.01,802.96 445.20,803.27 C445.39,803.59 445.55,803.90 445.61,804.21 C445.67,804.52 445.65,804.84 445.56,805.15 C445.47,805.46 445.27,805.77 445.07,806.09 C444.86,806.40 444.56,806.71 444.32,807.02 C444.07,807.34 443.79,807.65 443.60,807.96 C443.41,808.27 443.26,808.74 443.19,808.90" fill="none" stroke="#808080" stroke-width="0.8"/>
<path d="M451.26,793.90 C451.17,794.06 450.84,794.52 450.75,794.84 C450.65,795.15 450.63,795.46 450.68,795.77 C450.74,796.09 450.90,796.40 451.08,796.71 C451.27,797.02 451.55,797.34 451.79,797.65 C452.04,797.96 452.34,798.27 452.54,798.59 C452.75,798.90 452.96,799.21 453.05,799.52 C453.15,799.84 453.17,800.15 453.12,800.46 C453.06,800.77 452.90,801.09 452.72,801.40 C452.53,801.71 452.25,802.02 452.01,802.34 C451.76,802.65 451.46,802.96 451.26,803.27 C451.05,803.59 450.84,803.90 450.75,804.21 C450.65,804.52 450.63,804.84 450.68,805.15 C450.74,805.46 450.90,805.77 451.08,806.09 C451.27,806.40 451.55,806.71 451.79,807.02 C452.04,807.34 452.34,807.65 452.54,807.96 C452.75,808.27 452.97,808.74 453.05,808.90" fill="none" stroke="#808080" stroke-width="0.8"/>
<path d="M472.18,793.90 C472.27,794.06 472.64,794.52 472.76,794.84 C472.89,795.15 472.97,795.46 472.95,795.77 C472.93,796.09 472.81,796.40 472.65,796.71 C472.49,797.02 472.23,797.34 471.99,797.65 C471.76,797.96 471.45,798.27 471.22,798.59 C471.00,798.90 470.76,799.21 470.64,799.52 C470.51,799.84 470.43,800.15 470.45,800.46 C470.47,800.77 470.59,801.09 470.75,801.40 C470.91,801.71 471.17,802.02 471.41,802.34 C471.64,802.65 471.95,802.96 472.18,803.27 C472.40,803.59 472.64,803.90 472.76,804.21 C472.89,804.52 472.97,804.84 472.95,805.15 C472.93,805.46 472.81,805.77 472.65,806.09 C472.49,806.40 472.23,806.71 471.99,807.02 C471.76,807.34 471.45,807.65 471.22,807.96 C471.00,808.27 470.73,808.74 470.64,808.90" fill="none" stroke="#808080" stroke-width="0.8"/>
<path d="M479.40,793.90 C479.29,794.06 478.91,794.52 478.75,794.84 C478.59,795.15 478.47,795.46 478.45,795.77 C478.44,796.09 478.51,796.40 478.64,796.71 C478.76,797.02 479.00,797.34 479.23,797.65 C479.45,797.96 479.76,798.27 480.00,798.59 C480.23,798.90 480.49,799.21 480.65,799.52 C480.81,799.84 480.93,800.15 480.95,800.46 C480.96,800.77 480.89,801.09 480.76,801.40 C480.64,801.71 480.40,802.02 480.17,802.34 C479.95,802.65 479.64,802.96 479.40,803.27 C479.17,803.59 478.91,803.90 478.75,804.21 C478.59,804.52 478.47,804.84 478.45,805.15 C478.44,805.46 478.51,805.77 478.64,806.09 C478.76,806.40 479.00,806.71 479.23,807.02 C479.45,807.34 479.76,807.65 480.00,807.96 C480.23,808.27 480.54,808.74 480.65,808.90" fill="none" stroke="#808080" stroke-width="0.8"/>
<path d="M500.91,793.90 C501.03,794.06 501.44,794.52 501.62,794.84 C501.80,795.15 501.96,795.46 502.02,795.77 C502.07,796.09 502.05,796.40 501.95,796.71 C501.85,797.02 501.65,797.34 501.44,797.65 C501.23,797.96 500.94,798.27 500.69,798.59 C500.45,798.90 500.16,799.21 499.98,799.52 C499.80,799.84 499.64,800.15 499.58,800.46 C499.53,800.77 499.55,801.09 499.65,801.40 C499.75,801.71 499.95,802.02 500.16,802.34 C500.37,802.65 500.66,802.96 500.91,803.27 C501.15,803.59 501.44,803.90 501.62,804.21 C501.80,804.52 501.96,804.84 502.02,805.15 C502.07,805.46 502.05,805.77 501.95,806.09 C501.85,806.40 501.65,806.71 501.44,807.02 C501.23,807.34 500.94,807.65 500.69,807.96 C500.45,808.27 500.10,808.74 499.98,808.90" fill="none" stroke="#808080" stroke-width="0.8"/>
<path d="M508.38,793.90 C508.26,794.06 507.84,794.52 507.63,794.84 C507.42,795.15 507.23,795.46 507.14,795.77 C507.05,796.09 507.03,796.40 507.09,796.71 C507.15,797.02 507.31,797.34 507.50,797.65 C507.69,797.96 507.98,798.27 508.22,798.59 C508.46,798.90 508.76,799.21 508.97,799.52 C509.18,799.84 509.37,800.15 509.46,800.46 C509.55,800.77 509.57,801.09 509.51,801.40 C509.45,801.71 509.29,802.02 509.10,802.34 C508.91,802.65 508.62,802.96 508.38,803.27 C508.14,803.59 507.84,803.90 507.63,804.21 C507.42,804.52 507.23,804.84 507.14,805.15 C507.05,805.46 507.03,805.77 507.09,806.09 C507.15,806.40 507.31,806.71 507.50,807.02 C507.69,807.34 507.98,807.65 508.22,807.96 C508.46,808.27 508.84,808.74 508.97,808.90" fill="none" stroke="#808080" stroke-width="0.8"/>
<path d="M522.83,793.90 C522.96,794.06 523.38,794.52 523.60,794.84 C523.83,795.15 524.05,795.46 524.18,795.77 C524.30,796.09 524.37,796.40 524.34,796.71 C524.32,797.02 524.20,797.34 524.03,797.65 C523.87,797.96 523.61,798.27 523.37,798.59 C523.13,798.90 522.82,799.21 522.60,799.52 C522.37,799.84 522.15,800.15 522.02,800.46 C521.90,800.77 521.83,801.09 521.86,801.40 C521.88,801.71 522.00,802.02 522.17,802.34 C522.33,802.65 522.59,802.96 522.83,803.27 C523.07,803.59 523.38,803.90 523.60,804.21 C523.83,804.52 524.05,804.84 524.18,805.15 C524.30,805.46 524.37,805.77 524.34,806.09 C524.32,806.40 524.20,806.71 524.03,807.02 C523.87,807.34 523.61,807.65 523.37,807.96 C523.13,808.27 522.73,808.74 522.60,808.90" fill="none" stroke="#808080" stroke-width="0.8"/>
<path d="M531.05,793.90 C530.92,794.06 530.51,794.52 530.28,794.84 C530.04,795.15 529.78,795.46 529.63,795.77 C529.48,796.09 529.36,796.40 529.35,796.71 C529.34,797.02 529.42,797.34 529.55,797.65 C529.68,797.96 529.92,798.27 530.15,798.59 C530.38,798.90 530.69,799.21 530.92,799.52 C531.16,799.84 531.42,800.15 531.57,800.46 C531.72,800.77 531.84,801.09 531.85,801.40 C531.86,801.71 531.78,802.02 531.65,802.34 C531.52,802.65 531.28,802.96 531.05,803.27 C530.82,803.59 530.51,803.90 530.28,804.21 C530.04,804.52 529.78,804.84 529.63,805.15 C529.48,805.46 529.36,805.77 529.35,806.09 C529.34,806.40 529.42,806.71 529.55,807.02 C529.68,807.34 529.92,807.65 530.15,807.96 C530.38,808.27 530.79,808.74 530.92,808.90" fill="none" stroke="#808080" stroke-width="0.8"/>
<path d="M552.98,793.90 C553.11,794.06 553.49,794.52 553.74,794.84 C553.98,795.15 554.26,795.46 554.44,795.77 C554.62,796.09 554.77,796.40 554.82,796.71 C554.87,797.02 554.84,797.34 554.74,797.65 C554.64,797.96 554.43,798.27 554.22,798.59 C554.01,798.90 553.71,799.21 553.46,799.52 C553.22,799.84 552.94,800.15 552.76,800.46 C552.58,800.77 552.43,801.09 552.38,801.40 C552.33,801.71 552.36,802.02 552.46,802.34 C552.56,802.65 552.77,802.96 552.98,803.27 C553.19,803.59 553.49,803.90 553.74,804.21 C553.98,804.52 554.26,804.84 554.44,805.15 C554.62,805.46 554.77,805.77 554.82,806.09 C554.87,806.40 554.84,806.71 554.74,807.02 C554.64,807.34 554.43,807.65 554.22,807.96 C554.01,808.27 553.59,808.74 553.46,808.90" fill="none" stroke="#808080" stroke-width="0.8"/>
<path d="M561.88,793.90 C561.76,794.06 561.40,794.52 561.15,794.84 C560.91,795.15 560.61,795.46 560.41,795.77 C560.20,796.09 560.01,796.40 559.93,796.71 C559.84,797.02 559.83,797.34 559.90,797.65 C559.96,797.96 560.13,798.27 560.32,798.59 C560.51,798.90 560.80,799.21 561.05,799.52 C561.29,799.84 561.59,800.15 561.79,800.46 C562.00,800.77 562.19,801.09 562.27,801.40 C562.36,801.71 562.37,802.02 562.30,802.34 C562.24,802.65 562.07,802.96 561.88,803.27 C561.69,803.59 561.40,803.90 561.15,804.21 C560.91,804.52 560.61,804.84 560.41,805.15 C560.20,805.46 560.01,805.77 559.93,806.09 C559.84,806.40 559.83,806.71 559.90,807.02 C559.96,807.34 560.13,807.65 560.32,807.96 C560.51,808.27 560.93,808.74 561.05,808.90" fill="none" stroke="#808080" stroke-width="0.8"/>
<line x1="427.30" y1="775.00" x2="427.30" y2="817.00" stroke="#4a4a4a" stroke-width="1.1" />
<line x1="434.70" y1="775.00" x2="434.70" y2="817.00" stroke="#4a4a4a" stroke-width="1.1" />
<line x1="456.60" y1="775.00" x2="456.60" y2="817.00" stroke="#4a4a4a" stroke-width="1.1" />
<line x1="465.20" y1="775.00" x2="465.20" y2="817.00" stroke="#4a4a4a" stroke-width="1.1" />
<line x1="483.90" y1="775.00" x2="483.90" y2="817.00" stroke="#4a4a4a" stroke-width="1.1" />
<line x1="492.30" y1="775.00" x2="492.30" y2="817.00" stroke="#4a4a4a" stroke-width="1.1" />
<line x1="511.70" y1="775.00" x2="511.70" y2="817.00" stroke="#4a4a4a" stroke-width="1.1" />
<line x1="519.10" y1="775.00" x2="519.10" y2="817.00" stroke="#4a4a4a" stroke-width="1.1" />
<line x1="538.50" y1="775.00" x2="538.50" y2="817.00" stroke="#4a4a4a" stroke-width="1.1" />
<line x1="546.40" y1="775.00" x2="546.40" y2="817.00" stroke="#4a4a4a" stroke-width="1.1" />
<circle cx="407.40" cy="776.20" r="3.55" fill="#f7eca4" stroke="#a89a55" stroke-width="0.8"/>
<circle cx="415.40" cy="776.20" r="3.55" fill="#f7eca4" stroke="#a89a55" stroke-width="0.8"/>
<circle cx="422.80" cy="776.20" r="3.55" fill="#f7eca4" stroke="#a89a55" stroke-width="0.8"/>
<circle cx="436.70" cy="776.20" r="3.55" fill="#f7eca4" stroke="#a89a55" stroke-width="0.8"/>
<circle cx="444.10" cy="776.20" r="3.55" fill="#f7eca4" stroke="#a89a55" stroke-width="0.8"/>
<circle cx="451.60" cy="776.20" r="3.55" fill="#f7eca4" stroke="#a89a55" stroke-width="0.8"/>
<circle cx="472.70" cy="776.20" r="3.55" fill="#f7eca4" stroke="#a89a55" stroke-width="0.8"/>
<circle cx="480.10" cy="776.20" r="3.55" fill="#f7eca4" stroke="#a89a55" stroke-width="0.8"/>
<circle cx="495.50" cy="776.20" r="3.55" fill="#f7eca4" stroke="#a89a55" stroke-width="0.8"/>
<circle cx="503.00" cy="776.20" r="3.55" fill="#f7eca4" stroke="#a89a55" stroke-width="0.8"/>
<circle cx="526.50" cy="776.20" r="3.55" fill="#f7eca4" stroke="#a89a55" stroke-width="0.8"/>
<circle cx="534.00" cy="776.20" r="3.55" fill="#f7eca4" stroke="#a89a55" stroke-width="0.8"/>
<circle cx="548.90" cy="776.20" r="3.55" fill="#f7eca4" stroke="#a89a55" stroke-width="0.8"/>
<circle cx="556.30" cy="776.20" r="3.55" fill="#f7eca4" stroke="#a89a55" stroke-width="0.8"/>
<circle cx="563.80" cy="776.20" r="3.55" fill="#f7eca4" stroke="#a89a55" stroke-width="0.8"/>
<circle cx="407.40" cy="813.40" r="3.55" fill="#f7eca4" stroke="#a89a55" stroke-width="0.8"/>
<circle cx="415.40" cy="813.40" r="3.55" fill="#f7eca4" stroke="#a89a55" stroke-width="0.8"/>
<circle cx="422.80" cy="813.40" r="3.55" fill="#f7eca4" stroke="#a89a55" stroke-width="0.8"/>
<circle cx="436.70" cy="813.40" r="3.55" fill="#f7eca4" stroke="#a89a55" stroke-width="0.8"/>
<circle cx="444.10" cy="813.40" r="3.55" fill="#f7eca4" stroke="#a89a55" stroke-width="0.8"/>
<circle cx="451.60" cy="813.40" r="3.55" fill="#f7eca4" stroke="#a89a55" stroke-width="0.8"/>
<circle cx="471.40" cy="813.40" r="3.55" fill="#f7eca4" stroke="#a89a55" stroke-width="0.8"/>
<circle cx="479.40" cy="813.40" r="3.55" fill="#f7eca4" stroke="#a89a55" stroke-width="0.8"/>
<circle cx="500.50" cy="813.40" r="3.55" fill="#f7eca4" stroke="#a89a55" stroke-width="0.8"/>
<circle cx="508.00" cy="813.40" r="3.55" fill="#f7eca4" stroke="#a89a55" stroke-width="0.8"/>
<circle cx="522.80" cy="813.40" r="3.55" fill="#f7eca4" stroke="#a89a55" stroke-width="0.8"/>
<circle cx="530.30" cy="813.40" r="3.55" fill="#f7eca4" stroke="#a89a55" stroke-width="0.8"/>
<circle cx="553.30" cy="813.40" r="3.55" fill="#f7eca4" stroke="#a89a55" stroke-width="0.8"/>
<circle cx="560.80" cy="813.40" r="3.55" fill="#f7eca4" stroke="#a89a55" stroke-width="0.8"/>
<circle cx="431.00" cy="781.10" r="2.6" fill="#3d4ea5"/>
<circle cx="431.00" cy="791.80" r="2.6" fill="#3d4ea5"/>
<circle cx="431.00" cy="806.00" r="2.6" fill="#3d4ea5"/>
<circle cx="460.80" cy="791.80" r="2.6" fill="#3d4ea5"/>
<circle cx="460.80" cy="807.70" r="2.6" fill="#3d4ea5"/>
<circle cx="488.60" cy="787.80" r="2.6" fill="#3d4ea5"/>
<circle cx="488.60" cy="801.50" r="2.6" fill="#3d4ea5"/>
<circle cx="488.60" cy="811.40" r="2.6" fill="#3d4ea5"/>
<circle cx="515.40" cy="786.10" r="2.6" fill="#3d4ea5"/>
<circle cx="515.40" cy="799.00" r="2.6" fill="#3d4ea5"/>
<circle cx="515.40" cy="811.40" r="2.6" fill="#3d4ea5"/>
<circle cx="542.70" cy="788.60" r="2.6" fill="#3d4ea5"/>
<circle cx="542.70" cy="801.70" r="2.6" fill="#3d4ea5"/>
<circle cx="542.70" cy="811.40" r="2.6" fill="#3d4ea5"/>
<path d="M412.40,829.60 C412.70,828.50 414.18,827.92 415.50,827.40 C416.82,826.88 418.70,826.93 420.30,826.50 C421.90,826.07 423.78,825.02 425.10,824.80 C426.42,824.58 427.18,824.87 428.20,825.20 C429.22,825.53 430.18,826.72 431.20,826.80 C432.22,826.88 433.35,825.80 434.30,825.70 C435.25,825.60 436.22,825.55 436.90,826.20 C437.58,826.85 438.52,828.20 438.40,829.60 C438.28,831.00 436.82,833.35 436.20,834.60 C435.58,835.85 435.13,836.10 434.70,837.10 C434.27,838.10 434.68,839.80 433.60,840.60 C432.52,841.40 430.27,841.83 428.20,841.90 C426.13,841.97 423.10,841.58 421.20,841.00 C419.30,840.42 418.05,839.57 416.80,838.40 C415.55,837.23 414.43,835.47 413.70,834.00 C412.97,832.53 412.10,830.70 412.40,829.60 Z" fill="url(#tan)" stroke="#8a6a3c" stroke-width="0.9"/>
<path d="M449.80,830.30 C449.75,829.32 451.98,827.00 453.00,825.90 C454.02,824.80 454.92,823.98 455.90,823.70 C456.88,823.42 457.80,823.62 458.90,824.20 C460.00,824.78 461.32,827.20 462.50,827.20 C463.68,827.20 465.07,824.73 466.00,824.20 C466.93,823.67 467.58,823.13 468.10,824.00 C468.62,824.87 469.17,827.77 469.10,829.40 C469.03,831.03 468.67,833.13 467.70,833.80 C466.73,834.47 464.53,833.25 463.30,833.40 C462.07,833.55 461.32,834.78 460.30,834.70 C459.28,834.62 458.37,833.38 457.20,832.90 C456.03,832.42 454.53,832.23 453.30,831.80 C452.07,831.37 449.85,831.28 449.80,830.30 Z" fill="#7b85c6" stroke="#2f3680" stroke-width="1.0"/>
<path d="M477.10,830.30 C477.05,829.32 479.28,827.00 480.30,825.90 C481.32,824.80 482.22,823.98 483.20,823.70 C484.18,823.42 485.10,823.62 486.20,824.20 C487.30,824.78 488.62,827.20 489.80,827.20 C490.98,827.20 492.37,824.73 493.30,824.20 C494.23,823.67 494.88,823.13 495.40,824.00 C495.92,824.87 496.47,827.77 496.40,829.40 C496.33,831.03 495.97,833.13 495.00,833.80 C494.03,834.47 491.83,833.25 490.60,833.40 C489.37,833.55 488.62,834.78 487.60,834.70 C486.58,834.62 485.67,833.38 484.50,832.90 C483.33,832.42 481.83,832.23 480.60,831.80 C479.37,831.37 477.15,831.28 477.10,830.30 Z" fill="#7b85c6" stroke="#2f3680" stroke-width="1.0"/>
<path d="M504.40,830.30 C504.35,829.32 506.58,827.00 507.60,825.90 C508.62,824.80 509.52,823.98 510.50,823.70 C511.48,823.42 512.40,823.62 513.50,824.20 C514.60,824.78 515.92,827.20 517.10,827.20 C518.28,827.20 519.67,824.73 520.60,824.20 C521.53,823.67 522.18,823.13 522.70,824.00 C523.22,824.87 523.77,827.77 523.70,829.40 C523.63,831.03 523.27,833.13 522.30,833.80 C521.33,834.47 519.13,833.25 517.90,833.40 C516.67,833.55 515.92,834.78 514.90,834.70 C513.88,834.62 512.97,833.38 511.80,832.90 C510.63,832.42 509.13,832.23 507.90,831.80 C506.67,831.37 504.45,831.28 504.40,830.30 Z" fill="#7b85c6" stroke="#2f3680" stroke-width="1.0"/>
<path d="M530.50,830.30 C530.45,829.32 532.68,827.00 533.70,825.90 C534.72,824.80 535.62,823.98 536.60,823.70 C537.58,823.42 538.50,823.62 539.60,824.20 C540.70,824.78 542.02,827.20 543.20,827.20 C544.38,827.20 545.77,824.73 546.70,824.20 C547.63,823.67 548.28,823.13 548.80,824.00 C549.32,824.87 549.87,827.77 549.80,829.40 C549.73,831.03 549.37,833.13 548.40,833.80 C547.43,834.47 545.23,833.25 544.00,833.40 C542.77,833.55 542.02,834.78 541.00,834.70 C539.98,834.62 539.07,833.38 537.90,832.90 C536.73,832.42 535.23,832.23 534.00,831.80 C532.77,831.37 530.55,831.28 530.50,830.30 Z" fill="#7b85c6" stroke="#2f3680" stroke-width="1.0"/>
<circle cx="431.00" cy="822.60" r="2.7" fill="#5cb04a" stroke="#e8f4e0" stroke-width="0.6"/>
<circle cx="460.80" cy="822.60" r="2.7" fill="#5cb04a" stroke="#e8f4e0" stroke-width="0.6"/>
<circle cx="488.10" cy="822.60" r="2.7" fill="#5cb04a" stroke="#e8f4e0" stroke-width="0.6"/>
<circle cx="515.40" cy="822.60" r="2.7" fill="#5cb04a" stroke="#e8f4e0" stroke-width="0.6"/>
<circle cx="542.70" cy="822.60" r="2.7" fill="#5cb04a" stroke="#e8f4e0" stroke-width="0.6"/>
<path d="M443.80,848.30 L446.90,853.30 L440.70,853.30 Z" fill="#7cc16a"/>
<path d="M456.80,850.60 L461.20,857.40 L452.40,857.40 Z" fill="#1f7a3a"/>
<path d="M483.00,850.60 L487.40,857.40 L478.60,857.40 Z" fill="#1f7a3a"/>
<path d="M508.60,850.60 L513.00,857.40 L504.20,857.40 Z" fill="#1f7a3a"/>
<path d="M529.60,850.60 L534.00,857.40 L525.20,857.40 Z" fill="#1f7a3a"/>
<path d="M434,837 L441,847" fill="none" stroke="#222" stroke-width="0.9" stroke-dasharray="1.2,1.0" marker-end="url(#ah)"/>
<path d="M460,835 C461,841 459,845 456,848.5" fill="none" stroke="#222" stroke-width="0.9" stroke-dasharray="1.2,1.0" marker-end="url(#ah)"/>
<path d="M487,835 C488,841 486,845 483,848" fill="none" stroke="#222" stroke-width="0.9" stroke-dasharray="1.2,1.0" marker-end="url(#ah)"/>
<path d="M514,835 C515,841 512,845 509,847.5" fill="none" stroke="#222" stroke-width="0.9" stroke-dasharray="1.2,1.0" marker-end="url(#ah)"/>
<path d="M541,835 C542,841 538,845 534,848.5" fill="none" stroke="#222" stroke-width="0.9" stroke-dasharray="1.2,1.0" marker-end="url(#ah)"/>
<path d="M461,835 C463,840 475,840.5 495,840 C520,839.5 540,841.5 556.5,840.5" fill="none" stroke="#222" stroke-width="0.9" stroke-dasharray="1.2,1.0" marker-end="url(#ah)"/>
<path d="M488,835 C490,839 500,838.5 515,839.5 C530,840.5 545,838 556.5,838.5" fill="none" stroke="#222" stroke-width="0.9" stroke-dasharray="1.2,1.0" marker-end="url(#ah)"/>
<path d="M515,835 C517,840 528,842 542,842 C550,842 553,841 556.5,842" fill="none" stroke="#222" stroke-width="0.9" stroke-dasharray="1.2,1.0" marker-end="url(#ah)"/>
<path d="M542,835 C544,838 550,839 556.5,839.5" fill="none" stroke="#222" stroke-width="0.9" stroke-dasharray="1.2,1.0" marker-end="url(#ah)"/>
<text x="567.50" y="830.50" font-size="12.7" text-anchor="start" fill="#1a1a1a" >Waste</text>
<line x1="567.50" y1="833.30" x2="605.00" y2="833.30" stroke="#222" stroke-width="1.3" />
<line x1="567.50" y1="846.30" x2="605.00" y2="846.30" stroke="#222" stroke-width="1.3" />
<path d="M573.40,836.30 L577.60,842.70 L569.20,842.70 Z" fill="#6a4424"/>
<path d="M582.20,836.30 L586.40,842.70 L578.00,842.70 Z" fill="#6a4424"/>
<path d="M591.00,836.30 L595.20,842.70 L586.80,842.70 Z" fill="#6a4424"/>
<path d="M599.00,836.30 L603.20,842.70 L594.80,842.70 Z" fill="#6a4424"/>
<path d="M604,839.5 C610,840 616,839.5 620.5,832.5" fill="none" stroke="#222" stroke-width="0.9" stroke-dasharray="1.2,1.0" marker-end="url(#ahb)"/>
<path d="M411.2,860.3 L476.4,874.3 L476.4,886.6 M555.9,860.3 L491.8,874.3 L491.8,886.6" fill="none" stroke="#222" stroke-width="1.5"/>
<path d="M386.40,917.00 C386.87,916.88 388.35,916.77 389.20,916.30 C390.05,915.83 390.78,915.32 391.50,914.20 C392.22,913.08 392.90,910.90 393.50,909.60 C394.10,908.30 394.80,907.22 395.10,906.40 C395.40,905.58 395.50,904.95 395.30,904.70 C395.10,904.45 394.53,904.38 393.90,904.90 C393.27,905.42 392.07,906.73 391.50,907.80 C390.93,908.87 390.42,909.98 390.50,911.30 C390.58,912.62 391.23,914.47 392.00,915.70 C392.77,916.93 394.03,918.05 395.10,918.70 C396.17,919.35 397.43,919.78 398.40,919.60 C399.37,919.42 400.18,918.53 400.90,917.60 C401.62,916.67 402.40,914.60 402.70,914.00" fill="none" stroke="#6a70a8" stroke-width="1.3"/>
<path d="M426.20,909.20 C426.70,909.23 428.25,909.00 429.20,909.40 C430.15,909.80 431.42,910.63 431.90,911.60 C432.38,912.57 432.38,913.97 432.10,915.20 C431.82,916.43 430.92,917.65 430.20,919.00 C429.48,920.35 428.12,922.03 427.80,923.30 C427.48,924.57 427.88,925.58 428.30,926.60 C428.72,927.62 429.70,928.57 430.30,929.40 C430.90,930.23 431.63,931.23 431.90,931.60" fill="none" stroke="#6a70a8" stroke-width="1.3"/>
<path d="M404.10,910.50 C403.18,911.42 403.50,913.18 403.60,914.60 C403.70,916.02 403.68,916.68 404.60,917.60 C405.52,918.52 406.56,918.78 408.20,919.20 C409.84,919.62 411.06,919.40 412.80,919.70 C414.54,920.00 415.38,920.80 416.90,920.70 C418.42,920.60 418.98,919.82 420.40,919.20 C421.82,918.58 422.66,918.32 424.00,917.60 C425.34,916.88 426.58,916.72 427.10,915.60 C427.62,914.48 426.80,913.22 426.60,912.00 C426.40,910.78 427.02,910.00 426.10,909.50 C425.18,909.00 423.54,909.30 422.00,909.50 C420.46,909.70 419.84,910.40 418.40,910.50 C416.96,910.60 416.24,909.74 414.80,910.00 C413.36,910.26 412.52,911.80 411.20,911.80 C409.88,911.80 409.62,910.26 408.20,910.00 C406.78,909.74 405.02,909.58 404.10,910.50 Z" fill="#a07598" stroke="#24141a" stroke-width="1.25" stroke-linejoin="round"/>
<path d="M404.30,910.00 C403.22,908.88 402.64,906.24 402.80,904.40 C402.96,902.56 403.88,901.84 405.10,900.80 C406.32,899.76 407.68,900.12 408.90,899.20 C410.12,898.28 409.92,897.06 411.20,896.20 C412.48,895.34 413.66,895.00 415.30,894.90 C416.94,894.80 418.06,895.08 419.40,895.70 C420.74,896.32 421.08,897.08 422.00,898.00 C422.92,898.92 423.30,899.24 424.00,900.30 C424.70,901.36 425.24,901.88 425.50,903.30 C425.76,904.72 425.18,906.16 425.30,907.40 C425.42,908.64 426.76,909.08 426.10,909.50 C425.44,909.92 423.54,909.30 422.00,909.50 C420.46,909.70 419.84,910.40 418.40,910.50 C416.96,910.60 416.24,909.74 414.80,910.00 C413.36,910.26 412.52,911.80 411.20,911.80 C409.88,911.80 409.58,910.36 408.20,910.00 C406.82,909.64 405.38,911.12 404.30,910.00 Z" fill="url(#rtop)" stroke="#24141a" stroke-width="1.25" stroke-linejoin="round"/>
<path d="M433.60,917.00 C434.07,916.88 435.55,916.77 436.40,916.30 C437.25,915.83 437.98,915.32 438.70,914.20 C439.42,913.08 440.10,910.90 440.70,909.60 C441.30,908.30 442.00,907.22 442.30,906.40 C442.60,905.58 442.70,904.95 442.50,904.70 C442.30,904.45 441.73,904.38 441.10,904.90 C440.47,905.42 439.27,906.73 438.70,907.80 C438.13,908.87 437.62,909.98 437.70,911.30 C437.78,912.62 438.43,914.47 439.20,915.70 C439.97,916.93 441.23,918.05 442.30,918.70 C443.37,919.35 444.63,919.78 445.60,919.60 C446.57,919.42 447.38,918.53 448.10,917.60 C448.82,916.67 449.60,914.60 449.90,914.00" fill="none" stroke="#6a70a8" stroke-width="1.3"/>
<path d="M473.40,909.20 C473.90,909.23 475.45,909.00 476.40,909.40 C477.35,909.80 478.62,910.63 479.10,911.60 C479.58,912.57 479.58,913.97 479.30,915.20 C479.02,916.43 478.12,917.65 477.40,919.00 C476.68,920.35 475.32,922.03 475.00,923.30 C474.68,924.57 475.08,925.58 475.50,926.60 C475.92,927.62 476.90,928.57 477.50,929.40 C478.10,930.23 478.83,931.23 479.10,931.60" fill="none" stroke="#6a70a8" stroke-width="1.3"/>
<path d="M451.30,910.50 C450.38,911.42 450.70,913.18 450.80,914.60 C450.90,916.02 450.88,916.68 451.80,917.60 C452.72,918.52 453.76,918.78 455.40,919.20 C457.04,919.62 458.26,919.40 460.00,919.70 C461.74,920.00 462.58,920.80 464.10,920.70 C465.62,920.60 466.18,919.82 467.60,919.20 C469.02,918.58 469.86,918.32 471.20,917.60 C472.54,916.88 473.78,916.72 474.30,915.60 C474.82,914.48 474.00,913.22 473.80,912.00 C473.60,910.78 474.22,910.00 473.30,909.50 C472.38,909.00 470.74,909.30 469.20,909.50 C467.66,909.70 467.04,910.40 465.60,910.50 C464.16,910.60 463.44,909.74 462.00,910.00 C460.56,910.26 459.72,911.80 458.40,911.80 C457.08,911.80 456.82,910.26 455.40,910.00 C453.98,909.74 452.22,909.58 451.30,910.50 Z" fill="#a07598" stroke="#24141a" stroke-width="1.25" stroke-linejoin="round"/>
<path d="M451.50,910.00 C450.42,908.88 449.84,906.24 450.00,904.40 C450.16,902.56 451.08,901.84 452.30,900.80 C453.52,899.76 454.88,900.12 456.10,899.20 C457.32,898.28 457.12,897.06 458.40,896.20 C459.68,895.34 460.86,895.00 462.50,894.90 C464.14,894.80 465.26,895.08 466.60,895.70 C467.94,896.32 468.28,897.08 469.20,898.00 C470.12,898.92 470.50,899.24 471.20,900.30 C471.90,901.36 472.44,901.88 472.70,903.30 C472.96,904.72 472.38,906.16 472.50,907.40 C472.62,908.64 473.96,909.08 473.30,909.50 C472.64,909.92 470.74,909.30 469.20,909.50 C467.66,909.70 467.04,910.40 465.60,910.50 C464.16,910.60 463.44,909.74 462.00,910.00 C460.56,910.26 459.72,911.80 458.40,911.80 C457.08,911.80 456.78,910.36 455.40,910.00 C454.02,909.64 452.58,911.12 451.50,910.00 Z" fill="url(#rtop)" stroke="#24141a" stroke-width="1.25" stroke-linejoin="round"/>
<path d="M480.20,917.00 C480.67,916.88 482.15,916.77 483.00,916.30 C483.85,915.83 484.58,915.32 485.30,914.20 C486.02,913.08 486.70,910.90 487.30,909.60 C487.90,908.30 488.60,907.22 488.90,906.40 C489.20,905.58 489.30,904.95 489.10,904.70 C488.90,904.45 488.33,904.38 487.70,904.90 C487.07,905.42 485.87,906.73 485.30,907.80 C484.73,908.87 484.22,909.98 484.30,911.30 C484.38,912.62 485.03,914.47 485.80,915.70 C486.57,916.93 487.83,918.05 488.90,918.70 C489.97,919.35 491.23,919.78 492.20,919.60 C493.17,919.42 493.98,918.53 494.70,917.60 C495.42,916.67 496.20,914.60 496.50,914.00" fill="none" stroke="#6a70a8" stroke-width="1.3"/>
<path d="M520.00,909.20 C520.50,909.23 522.05,909.00 523.00,909.40 C523.95,909.80 525.22,910.63 525.70,911.60 C526.18,912.57 526.18,913.97 525.90,915.20 C525.62,916.43 524.72,917.65 524.00,919.00 C523.28,920.35 521.92,922.03 521.60,923.30 C521.28,924.57 521.68,925.58 522.10,926.60 C522.52,927.62 523.50,928.57 524.10,929.40 C524.70,930.23 525.43,931.23 525.70,931.60" fill="none" stroke="#6a70a8" stroke-width="1.3"/>
<path d="M497.90,910.50 C496.98,911.42 497.30,913.18 497.40,914.60 C497.50,916.02 497.48,916.68 498.40,917.60 C499.32,918.52 500.36,918.78 502.00,919.20 C503.64,919.62 504.86,919.40 506.60,919.70 C508.34,920.00 509.18,920.80 510.70,920.70 C512.22,920.60 512.78,919.82 514.20,919.20 C515.62,918.58 516.46,918.32 517.80,917.60 C519.14,916.88 520.38,916.72 520.90,915.60 C521.42,914.48 520.60,913.22 520.40,912.00 C520.20,910.78 520.82,910.00 519.90,909.50 C518.98,909.00 517.34,909.30 515.80,909.50 C514.26,909.70 513.64,910.40 512.20,910.50 C510.76,910.60 510.04,909.74 508.60,910.00 C507.16,910.26 506.32,911.80 505.00,911.80 C503.68,911.80 503.42,910.26 502.00,910.00 C500.58,909.74 498.82,909.58 497.90,910.50 Z" fill="#a07598" stroke="#24141a" stroke-width="1.25" stroke-linejoin="round"/>
<path d="M498.10,910.00 C497.02,908.88 496.44,906.24 496.60,904.40 C496.76,902.56 497.68,901.84 498.90,900.80 C500.12,899.76 501.48,900.12 502.70,899.20 C503.92,898.28 503.72,897.06 505.00,896.20 C506.28,895.34 507.46,895.00 509.10,894.90 C510.74,894.80 511.86,895.08 513.20,895.70 C514.54,896.32 514.88,897.08 515.80,898.00 C516.72,898.92 517.10,899.24 517.80,900.30 C518.50,901.36 519.04,901.88 519.30,903.30 C519.56,904.72 518.98,906.16 519.10,907.40 C519.22,908.64 520.56,909.08 519.90,909.50 C519.24,909.92 517.34,909.30 515.80,909.50 C514.26,909.70 513.64,910.40 512.20,910.50 C510.76,910.60 510.04,909.74 508.60,910.00 C507.16,910.26 506.32,911.80 505.00,911.80 C503.68,911.80 503.38,910.36 502.00,910.00 C500.62,909.64 499.18,911.12 498.10,910.00 Z" fill="url(#rtop)" stroke="#24141a" stroke-width="1.25" stroke-linejoin="round"/>
<path d="M526.70,917.00 C527.17,916.88 528.65,916.77 529.50,916.30 C530.35,915.83 531.08,915.32 531.80,914.20 C532.52,913.08 533.20,910.90 533.80,909.60 C534.40,908.30 535.10,907.22 535.40,906.40 C535.70,905.58 535.80,904.95 535.60,904.70 C535.40,904.45 534.83,904.38 534.20,904.90 C533.57,905.42 532.37,906.73 531.80,907.80 C531.23,908.87 530.72,909.98 530.80,911.30 C530.88,912.62 531.53,914.47 532.30,915.70 C533.07,916.93 534.33,918.05 535.40,918.70 C536.47,919.35 537.73,919.78 538.70,919.60 C539.67,919.42 540.48,918.53 541.20,917.60 C541.92,916.67 542.70,914.60 543.00,914.00" fill="none" stroke="#6a70a8" stroke-width="1.3"/>
<path d="M566.50,909.20 C567.00,909.23 568.55,909.00 569.50,909.40 C570.45,909.80 571.72,910.63 572.20,911.60 C572.68,912.57 572.68,913.97 572.40,915.20 C572.12,916.43 571.22,917.65 570.50,919.00 C569.78,920.35 568.42,922.03 568.10,923.30 C567.78,924.57 568.18,925.58 568.60,926.60 C569.02,927.62 570.00,928.57 570.60,929.40 C571.20,930.23 571.93,931.23 572.20,931.60" fill="none" stroke="#6a70a8" stroke-width="1.3"/>
<path d="M544.40,910.50 C543.48,911.42 543.80,913.18 543.90,914.60 C544.00,916.02 543.98,916.68 544.90,917.60 C545.82,918.52 546.86,918.78 548.50,919.20 C550.14,919.62 551.36,919.40 553.10,919.70 C554.84,920.00 555.68,920.80 557.20,920.70 C558.72,920.60 559.28,919.82 560.70,919.20 C562.12,918.58 562.96,918.32 564.30,917.60 C565.64,916.88 566.88,916.72 567.40,915.60 C567.92,914.48 567.10,913.22 566.90,912.00 C566.70,910.78 567.32,910.00 566.40,909.50 C565.48,909.00 563.84,909.30 562.30,909.50 C560.76,909.70 560.14,910.40 558.70,910.50 C557.26,910.60 556.54,909.74 555.10,910.00 C553.66,910.26 552.82,911.80 551.50,911.80 C550.18,911.80 549.92,910.26 548.50,910.00 C547.08,909.74 545.32,909.58 544.40,910.50 Z" fill="#a07598" stroke="#24141a" stroke-width="1.25" stroke-linejoin="round"/>
<path d="M544.60,910.00 C543.52,908.88 542.94,906.24 543.10,904.40 C543.26,902.56 544.18,901.84 545.40,900.80 C546.62,899.76 547.98,900.12 549.20,899.20 C550.42,898.28 550.22,897.06 551.50,896.20 C552.78,895.34 553.96,895.00 555.60,894.90 C557.24,894.80 558.36,895.08 559.70,895.70 C561.04,896.32 561.38,897.08 562.30,898.00 C563.22,898.92 563.60,899.24 564.30,900.30 C565.00,901.36 565.54,901.88 565.80,903.30 C566.06,904.72 565.48,906.16 565.60,907.40 C565.72,908.64 567.06,909.08 566.40,909.50 C565.74,909.92 563.84,909.30 562.30,909.50 C560.76,909.70 560.14,910.40 558.70,910.50 C557.26,910.60 556.54,909.74 555.10,910.00 C553.66,910.26 552.82,911.80 551.50,911.80 C550.18,911.80 549.88,910.36 548.50,910.00 C547.12,909.64 545.68,911.12 544.60,910.00 Z" fill="url(#rtop)" stroke="#24141a" stroke-width="1.25" stroke-linejoin="round"/>
<path d="M454.30,982.10 A31.7,31.7 0 0 1 517.70,982.10" fill="none" stroke="#111" stroke-width="1.8"/>
<path d="M486.50,978.50 L511.30,968.20 L511.80,969.10 L488.80,981.50 Z" fill="#a4668a"/>
<path d="M487.50,978.70 L515.50,977.70 L515.50,981.10 L488.00,981.60 Z" fill="#d8b27a"/>
<path d="M496.00,978.50 L515.50,978.10 L515.50,979.50 L496.00,979.50 Z" fill="#5566b0" fill-opacity="0.85"/>
<line x1="453.40" y1="982.10" x2="518.60" y2="982.10" stroke="#111" stroke-width="2.6" />
<circle cx="486.00" cy="981.30" r="2.9" fill="#111"/>
<text x="489.80" y="945.70" font-size="12.6" text-anchor="middle" fill="#1a1a1a" >0.5</text>
<text x="451.70" y="986.70" font-size="12.6" text-anchor="end" fill="#1a1a1a" >0</text>
<text x="519.70" y="986.70" font-size="12.6" text-anchor="start" fill="#1a1a1a" >1</text>
<text x="480.40" y="996.70" font-size="12.8" font-style="italic" fill="#111">k<tspan font-style="normal" font-size="9.6" dy="3">eff</tspan></text>
<line x1="478.70" y1="1003.00" x2="497.10" y2="1003.00" stroke="#111" stroke-width="1.0" />
<text x="478.20" y="1013.30" font-size="12.8" font-style="italic" fill="#111">k<tspan font-style="normal" font-size="9.6" dy="3">cat</tspan></text>
<line x1="105.00" y1="1025.00" x2="583.00" y2="1025.00" stroke="#111" stroke-width="2.8" />
<path d="M581.5,1012.4 L603.4,1025 L581.5,1037 Z" fill="#111"/>
<text x="105.30" y="1044.60" font-size="12.92" text-anchor="start" fill="#1a1a1a" >During the Janusian transition, μ increases through differential pathway expression</text>
</svg></body></html>
